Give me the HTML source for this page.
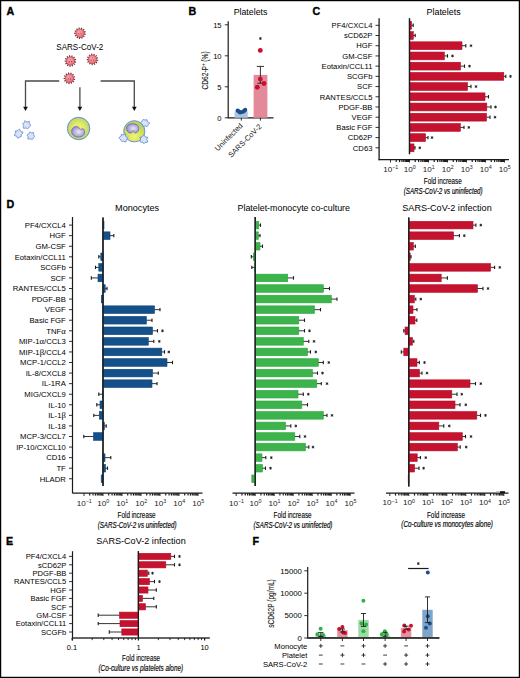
<!DOCTYPE html><html><head><meta charset="utf-8"><style>html,body{margin:0;padding:0;background:#fff;}svg{display:block;}text{font-family:"Liberation Sans", sans-serif;}</style></head><body>
<svg width="520" height="678" viewBox="0 0 520 678">
<rect x="0" y="0" width="520" height="678" fill="#fff"/>
<text x="6.60" y="14.90" font-size="10.7" text-anchor="start" font-weight="bold" fill="#000" stroke="#000" stroke-width="0.35">A</text>
<text x="188.60" y="14.80" font-size="10.7" text-anchor="start" font-weight="bold" fill="#000" stroke="#000" stroke-width="0.35">B</text>
<text x="312.60" y="14.80" font-size="10.7" text-anchor="start" font-weight="bold" fill="#000" stroke="#000" stroke-width="0.35">C</text>
<text x="6.60" y="207.80" font-size="10.7" text-anchor="start" font-weight="bold" fill="#000" stroke="#000" stroke-width="0.35">D</text>
<text x="6.00" y="545.20" font-size="10.7" text-anchor="start" font-weight="bold" fill="#000" stroke="#000" stroke-width="0.35">E</text>
<text x="252.60" y="544.60" font-size="10.7" text-anchor="start" font-weight="bold" fill="#000" stroke="#000" stroke-width="0.35">F</text>
<defs><radialGradient id="virg" cx="0.45" cy="0.4" r="0.6"><stop offset="0" stop-color="#f8b0b4"/><stop offset="1" stop-color="#e6636e"/></radialGradient></defs>
<g transform="translate(80.00,33.20)"><line x1="2.95" y1="0.60" x2="5.68" y2="1.15" stroke="#6e2d39" stroke-width="1.15"/><line x1="2.33" y1="1.90" x2="4.50" y2="3.66" stroke="#6e2d39" stroke-width="1.15"/><line x1="1.18" y1="2.77" x2="2.28" y2="5.33" stroke="#6e2d39" stroke-width="1.15"/><line x1="-0.24" y1="3.00" x2="-0.46" y2="5.78" stroke="#6e2d39" stroke-width="1.15"/><line x1="-1.61" y1="2.55" x2="-3.09" y2="4.91" stroke="#6e2d39" stroke-width="1.15"/><line x1="-2.60" y1="1.51" x2="-5.02" y2="2.91" stroke="#6e2d39" stroke-width="1.15"/><line x1="-3.01" y1="0.13" x2="-5.79" y2="0.24" stroke="#6e2d39" stroke-width="1.15"/><line x1="-2.72" y1="-1.29" x2="-5.24" y2="-2.48" stroke="#6e2d39" stroke-width="1.15"/><line x1="-1.81" y1="-2.40" x2="-3.49" y2="-4.63" stroke="#6e2d39" stroke-width="1.15"/><line x1="-0.49" y1="-2.97" x2="-0.94" y2="-5.72" stroke="#6e2d39" stroke-width="1.15"/><line x1="0.95" y1="-2.86" x2="1.83" y2="-5.50" stroke="#6e2d39" stroke-width="1.15"/><line x1="2.17" y1="-2.09" x2="4.18" y2="-4.02" stroke="#6e2d39" stroke-width="1.15"/><line x1="2.89" y1="-0.84" x2="5.57" y2="-1.62" stroke="#6e2d39" stroke-width="1.15"/><circle r="4.3" fill="url(#virg)" stroke="#a8404c" stroke-width="0.5"/><circle cx="-1.2" cy="0.6" r="0.55" fill="#8a3540"/><circle cx="1.1" cy="0.6" r="0.55" fill="#8a3540"/><circle cx="0" cy="-1.3" r="0.5" fill="#c05560"/></g>
<g transform="translate(70.40,61.00)"><line x1="2.95" y1="0.60" x2="5.68" y2="1.15" stroke="#6e2d39" stroke-width="1.15"/><line x1="2.33" y1="1.90" x2="4.50" y2="3.66" stroke="#6e2d39" stroke-width="1.15"/><line x1="1.18" y1="2.77" x2="2.28" y2="5.33" stroke="#6e2d39" stroke-width="1.15"/><line x1="-0.24" y1="3.00" x2="-0.46" y2="5.78" stroke="#6e2d39" stroke-width="1.15"/><line x1="-1.61" y1="2.55" x2="-3.09" y2="4.91" stroke="#6e2d39" stroke-width="1.15"/><line x1="-2.60" y1="1.51" x2="-5.02" y2="2.91" stroke="#6e2d39" stroke-width="1.15"/><line x1="-3.01" y1="0.13" x2="-5.79" y2="0.24" stroke="#6e2d39" stroke-width="1.15"/><line x1="-2.72" y1="-1.29" x2="-5.24" y2="-2.48" stroke="#6e2d39" stroke-width="1.15"/><line x1="-1.81" y1="-2.40" x2="-3.49" y2="-4.63" stroke="#6e2d39" stroke-width="1.15"/><line x1="-0.49" y1="-2.97" x2="-0.94" y2="-5.72" stroke="#6e2d39" stroke-width="1.15"/><line x1="0.95" y1="-2.86" x2="1.83" y2="-5.50" stroke="#6e2d39" stroke-width="1.15"/><line x1="2.17" y1="-2.09" x2="4.18" y2="-4.02" stroke="#6e2d39" stroke-width="1.15"/><line x1="2.89" y1="-0.84" x2="5.57" y2="-1.62" stroke="#6e2d39" stroke-width="1.15"/><circle r="4.3" fill="url(#virg)" stroke="#a8404c" stroke-width="0.5"/><circle cx="-1.2" cy="0.6" r="0.55" fill="#8a3540"/><circle cx="1.1" cy="0.6" r="0.55" fill="#8a3540"/><circle cx="0" cy="-1.3" r="0.5" fill="#c05560"/></g>
<g transform="translate(92.50,59.40)"><line x1="2.95" y1="0.60" x2="5.68" y2="1.15" stroke="#6e2d39" stroke-width="1.15"/><line x1="2.33" y1="1.90" x2="4.50" y2="3.66" stroke="#6e2d39" stroke-width="1.15"/><line x1="1.18" y1="2.77" x2="2.28" y2="5.33" stroke="#6e2d39" stroke-width="1.15"/><line x1="-0.24" y1="3.00" x2="-0.46" y2="5.78" stroke="#6e2d39" stroke-width="1.15"/><line x1="-1.61" y1="2.55" x2="-3.09" y2="4.91" stroke="#6e2d39" stroke-width="1.15"/><line x1="-2.60" y1="1.51" x2="-5.02" y2="2.91" stroke="#6e2d39" stroke-width="1.15"/><line x1="-3.01" y1="0.13" x2="-5.79" y2="0.24" stroke="#6e2d39" stroke-width="1.15"/><line x1="-2.72" y1="-1.29" x2="-5.24" y2="-2.48" stroke="#6e2d39" stroke-width="1.15"/><line x1="-1.81" y1="-2.40" x2="-3.49" y2="-4.63" stroke="#6e2d39" stroke-width="1.15"/><line x1="-0.49" y1="-2.97" x2="-0.94" y2="-5.72" stroke="#6e2d39" stroke-width="1.15"/><line x1="0.95" y1="-2.86" x2="1.83" y2="-5.50" stroke="#6e2d39" stroke-width="1.15"/><line x1="2.17" y1="-2.09" x2="4.18" y2="-4.02" stroke="#6e2d39" stroke-width="1.15"/><line x1="2.89" y1="-0.84" x2="5.57" y2="-1.62" stroke="#6e2d39" stroke-width="1.15"/><circle r="4.3" fill="url(#virg)" stroke="#a8404c" stroke-width="0.5"/><circle cx="-1.2" cy="0.6" r="0.55" fill="#8a3540"/><circle cx="1.1" cy="0.6" r="0.55" fill="#8a3540"/><circle cx="0" cy="-1.3" r="0.5" fill="#c05560"/></g>
<g transform="translate(69.40,78.30)"><line x1="2.95" y1="0.60" x2="5.68" y2="1.15" stroke="#6e2d39" stroke-width="1.15"/><line x1="2.33" y1="1.90" x2="4.50" y2="3.66" stroke="#6e2d39" stroke-width="1.15"/><line x1="1.18" y1="2.77" x2="2.28" y2="5.33" stroke="#6e2d39" stroke-width="1.15"/><line x1="-0.24" y1="3.00" x2="-0.46" y2="5.78" stroke="#6e2d39" stroke-width="1.15"/><line x1="-1.61" y1="2.55" x2="-3.09" y2="4.91" stroke="#6e2d39" stroke-width="1.15"/><line x1="-2.60" y1="1.51" x2="-5.02" y2="2.91" stroke="#6e2d39" stroke-width="1.15"/><line x1="-3.01" y1="0.13" x2="-5.79" y2="0.24" stroke="#6e2d39" stroke-width="1.15"/><line x1="-2.72" y1="-1.29" x2="-5.24" y2="-2.48" stroke="#6e2d39" stroke-width="1.15"/><line x1="-1.81" y1="-2.40" x2="-3.49" y2="-4.63" stroke="#6e2d39" stroke-width="1.15"/><line x1="-0.49" y1="-2.97" x2="-0.94" y2="-5.72" stroke="#6e2d39" stroke-width="1.15"/><line x1="0.95" y1="-2.86" x2="1.83" y2="-5.50" stroke="#6e2d39" stroke-width="1.15"/><line x1="2.17" y1="-2.09" x2="4.18" y2="-4.02" stroke="#6e2d39" stroke-width="1.15"/><line x1="2.89" y1="-0.84" x2="5.57" y2="-1.62" stroke="#6e2d39" stroke-width="1.15"/><circle r="4.3" fill="url(#virg)" stroke="#a8404c" stroke-width="0.5"/><circle cx="-1.2" cy="0.6" r="0.55" fill="#8a3540"/><circle cx="1.1" cy="0.6" r="0.55" fill="#8a3540"/><circle cx="0" cy="-1.3" r="0.5" fill="#c05560"/></g>
<text x="79.80" y="49.80" font-size="8.4" text-anchor="middle" textLength="47" lengthAdjust="spacingAndGlyphs" >SARS-CoV-2</text>
<polyline points="59.2,81.0 25.5,81.0 25.5,107.5" fill="none" stroke="#4a4a4a" stroke-width="1.3"/>
<polyline points="100.6,81.0 134.3,81.0 134.3,107.5" fill="none" stroke="#4a4a4a" stroke-width="1.3"/>
<line x1="79.90" y1="87.30" x2="79.90" y2="107.50" stroke="#4a4a4a" stroke-width="1.3"/>
<polygon points="23.10,106.8 27.90,106.8 25.50,110.9" fill="#111"/>
<polygon points="77.50,106.8 82.30,106.8 79.90,110.9" fill="#111"/>
<polygon points="131.90,106.8 136.70,106.8 134.30,110.9" fill="#111"/>
<path transform="translate(26.50,124.90) rotate(10) scale(1.0)" d="M3.93,0.00 C3.92,0.42 3.63,0.87 3.43,1.25 C3.23,1.63 2.96,1.91 2.73,2.29 C2.50,2.67 2.39,3.35 2.03,3.51 C1.67,3.67 1.00,3.30 0.57,3.25 C0.14,3.19 -0.10,3.10 -0.56,3.20 C-1.03,3.30 -1.86,4.00 -2.23,3.86 C-2.59,3.71 -2.67,2.78 -2.75,2.31 C-2.83,1.83 -2.54,1.37 -2.72,0.99 C-2.90,0.61 -3.71,0.37 -3.83,0.00 C-3.94,-0.37 -3.64,-0.90 -3.42,-1.24 C-3.19,-1.59 -2.67,-1.63 -2.48,-2.08 C-2.29,-2.53 -2.61,-3.84 -2.28,-3.95 C-1.95,-4.06 -0.96,-2.89 -0.49,-2.76 C-0.01,-2.63 0.11,-3.00 0.56,-3.20 C1.02,-3.39 1.97,-4.12 2.26,-3.92 C2.55,-3.71 2.11,-2.39 2.32,-1.95 C2.53,-1.51 3.25,-1.61 3.52,-1.28 C3.79,-0.96 3.95,-0.42 3.93,0.00Z" fill="#d9e3f6" stroke="#5a84d6" stroke-width="0.8"/>
<path transform="translate(18.50,133.80) rotate(-20) scale(1.0)" d="M4.76,0.00 C4.82,0.40 3.95,0.98 3.52,1.28 C3.09,1.59 2.45,1.49 2.19,1.84 C1.93,2.18 2.20,3.07 1.94,3.36 C1.68,3.66 1.06,3.56 0.63,3.58 C0.21,3.60 -0.14,3.43 -0.61,3.48 C-1.09,3.53 -1.94,4.12 -2.23,3.87 C-2.53,3.62 -2.22,2.45 -2.38,2.00 C-2.54,1.55 -2.86,1.50 -3.20,1.16 C-3.54,0.83 -4.41,0.39 -4.41,0.00 C-4.40,-0.39 -3.53,-0.84 -3.18,-1.16 C-2.82,-1.47 -2.44,-1.48 -2.27,-1.90 C-2.09,-2.32 -2.40,-3.46 -2.12,-3.66 C-1.83,-3.87 -1.01,-3.18 -0.55,-3.15 C-0.10,-3.11 0.12,-3.30 0.61,-3.47 C1.10,-3.64 2.02,-4.33 2.40,-4.15 C2.77,-3.98 2.75,-2.91 2.87,-2.41 C3.00,-1.91 2.83,-1.55 3.14,-1.14 C3.46,-0.74 4.69,-0.40 4.76,0.00Z" fill="#d9e3f6" stroke="#5a84d6" stroke-width="0.8"/>
<path transform="translate(30.80,135.90) rotate(70) scale(0.95)" d="M4.04,0.00 C3.99,0.40 3.41,0.80 3.14,1.14 C2.87,1.48 2.59,1.59 2.43,2.04 C2.27,2.48 2.51,3.59 2.20,3.81 C1.90,4.04 1.04,3.54 0.59,3.37 C0.14,3.21 -0.08,2.83 -0.50,2.82 C-0.91,2.81 -1.53,3.38 -1.91,3.30 C-2.29,3.22 -2.63,2.71 -2.79,2.34 C-2.95,1.96 -2.67,1.44 -2.87,1.05 C-3.08,0.66 -3.92,0.39 -4.03,0.00 C-4.15,-0.39 -3.82,-0.95 -3.57,-1.30 C-3.31,-1.65 -2.71,-1.65 -2.51,-2.10 C-2.30,-2.55 -2.64,-3.83 -2.32,-4.02 C-2.00,-4.20 -1.05,-3.33 -0.57,-3.23 C-0.08,-3.12 0.17,-3.35 0.60,-3.39 C1.02,-3.42 1.64,-3.62 1.98,-3.42 C2.31,-3.22 2.39,-2.57 2.63,-2.21 C2.88,-1.85 3.21,-1.62 3.45,-1.25 C3.68,-0.89 4.09,-0.40 4.04,0.00Z" fill="#d9e3f6" stroke="#5a84d6" stroke-width="0.8"/>
<defs><radialGradient id="cellg" cx="0.5" cy="0.5" r="0.55"><stop offset="0" stop-color="#f8f45c"/><stop offset="0.45" stop-color="#e2ea6c"/><stop offset="1" stop-color="#b4ce6e"/></radialGradient><radialGradient id="cellg2" cx="0.5" cy="0.75" r="0.6"><stop offset="0" stop-color="#f4f46a"/><stop offset="1" stop-color="#bdd35e"/></radialGradient><radialGradient id="nucg" cx="0.55" cy="0.5" r="0.6"><stop offset="0" stop-color="#efe9f5"/><stop offset="1" stop-color="#9484c4"/></radialGradient></defs>
<circle cx="78.6" cy="128.5" r="11.2" fill="url(#cellg)" stroke="#5b86d6" stroke-width="0.9"/>
<path d="M71.6,131.5 C71.6,128.2 74.2,126.4 76.6,126.6 C78.2,126.7 79.2,127.4 79.4,128.4 C79.8,129.6 81.2,129.8 82.2,128.6 C83.6,128.4 84.8,130.4 84.6,132.4 C84.4,135.4 81.6,137.2 78.2,137.1 C74.4,137.0 71.6,135.0 71.6,131.5 Z" fill="url(#nucg)" stroke="#5b6cc8" stroke-width="0.8"/>
<circle cx="134.3" cy="131.3" r="10.6" fill="url(#cellg2)" stroke="#5b86d6" stroke-width="0.9"/>
<path d="M126.6,128.2 C126.4,125.2 129.4,123.8 132.6,123.8 C136.2,123.8 138.9,125.4 138.8,128.2 C138.7,130.6 137.4,132.8 135.6,133.0 C134.6,133.1 133.8,132.2 133.2,130.6 C132.6,132.2 131.6,133.2 130.2,133.0 C128.2,132.8 126.7,130.6 126.6,128.2 Z" fill="url(#nucg)" stroke="#5b6cc8" stroke-width="0.8"/>
<path transform="translate(145.00,123.10) rotate(60) scale(1.0)" d="M4.04,0.00 C3.93,0.37 2.99,0.65 2.73,0.99 C2.46,1.34 2.57,1.65 2.45,2.05 C2.32,2.46 2.30,3.30 1.98,3.43 C1.65,3.55 0.92,2.87 0.50,2.82 C0.08,2.78 -0.08,2.94 -0.56,3.15 C-1.03,3.36 -1.99,4.23 -2.36,4.09 C-2.73,3.95 -2.59,2.79 -2.76,2.31 C-2.92,1.84 -3.14,1.61 -3.35,1.22 C-3.56,0.83 -4.06,0.39 -4.02,0.00 C-3.99,-0.39 -3.41,-0.81 -3.14,-1.14 C-2.86,-1.47 -2.55,-1.59 -2.36,-1.98 C-2.17,-2.36 -2.30,-3.29 -1.99,-3.44 C-1.68,-3.59 -0.92,-2.94 -0.50,-2.86 C-0.09,-2.78 0.05,-2.76 0.52,-2.97 C1.00,-3.17 1.99,-4.20 2.36,-4.09 C2.74,-3.99 2.61,-2.81 2.78,-2.33 C2.95,-1.86 3.18,-1.62 3.39,-1.23 C3.60,-0.84 4.15,-0.37 4.04,0.00Z" fill="#d9e3f6" stroke="#5a84d6" stroke-width="0.8"/>
<path transform="translate(123.50,137.90) rotate(0) scale(1.0)" d="M4.42,0.00 C4.51,0.37 3.61,0.83 3.33,1.21 C3.05,1.60 2.91,1.83 2.75,2.31 C2.59,2.79 2.73,3.91 2.37,4.11 C2.01,4.30 1.12,3.56 0.61,3.49 C0.11,3.41 -0.22,3.69 -0.65,3.67 C-1.07,3.64 -1.61,3.58 -1.91,3.32 C-2.22,3.05 -2.23,2.44 -2.50,2.10 C-2.77,1.76 -3.19,1.63 -3.52,1.28 C-3.84,0.93 -4.46,0.42 -4.45,0.00 C-4.44,-0.42 -3.85,-0.95 -3.48,-1.27 C-3.11,-1.58 -2.46,-1.47 -2.23,-1.87 C-2.01,-2.28 -2.42,-3.51 -2.13,-3.70 C-1.85,-3.89 -0.98,-3.07 -0.53,-3.00 C-0.08,-2.93 0.13,-3.16 0.58,-3.29 C1.03,-3.42 1.92,-4.04 2.19,-3.79 C2.45,-3.54 2.05,-2.27 2.15,-1.81 C2.26,-1.35 2.46,-1.33 2.83,-1.03 C3.21,-0.73 4.34,-0.37 4.42,0.00Z" fill="#d9e3f6" stroke="#5a84d6" stroke-width="0.8"/>
<path transform="translate(143.80,139.60) rotate(30) scale(1.0)" d="M4.59,0.00 C4.64,0.40 3.75,0.89 3.40,1.24 C3.06,1.59 2.75,1.73 2.52,2.11 C2.29,2.49 2.37,3.41 2.03,3.52 C1.69,3.63 0.92,2.78 0.49,2.76 C0.05,2.74 -0.16,3.25 -0.60,3.41 C-1.04,3.57 -1.78,3.89 -2.14,3.70 C-2.49,3.51 -2.59,2.72 -2.73,2.29 C-2.87,1.85 -2.67,1.47 -2.98,1.09 C-3.29,0.70 -4.59,0.36 -4.57,0.00 C-4.55,-0.36 -3.19,-0.67 -2.89,-1.05 C-2.59,-1.44 -2.86,-1.84 -2.76,-2.32 C-2.66,-2.79 -2.63,-3.78 -2.26,-3.92 C-1.90,-4.06 -1.03,-3.27 -0.56,-3.17 C-0.08,-3.06 0.11,-3.17 0.58,-3.29 C1.05,-3.41 1.96,-4.11 2.24,-3.88 C2.53,-3.65 2.14,-2.38 2.29,-1.92 C2.44,-1.47 2.77,-1.47 3.15,-1.15 C3.53,-0.83 4.55,-0.40 4.59,0.00Z" fill="#d9e3f6" stroke="#5a84d6" stroke-width="0.8"/>
<text x="250.50" y="14.80" font-size="8.8" text-anchor="middle" >Platelets</text>
<line x1="228.20" y1="21.20" x2="228.20" y2="118.30" stroke="#1a1a1a" stroke-width="1.2"/>
<line x1="228.20" y1="117.80" x2="273.50" y2="117.80" stroke="#1a1a1a" stroke-width="1.2"/>
<line x1="224.80" y1="117.80" x2="228.20" y2="117.80" stroke="#1a1a1a" stroke-width="0.9"/>
<text x="221.60" y="120.55" font-size="7.6" text-anchor="end" >0</text>
<line x1="224.80" y1="86.80" x2="228.20" y2="86.80" stroke="#1a1a1a" stroke-width="0.9"/>
<text x="221.60" y="89.55" font-size="7.6" text-anchor="end" >5</text>
<line x1="224.80" y1="55.80" x2="228.20" y2="55.80" stroke="#1a1a1a" stroke-width="0.9"/>
<text x="221.60" y="58.55" font-size="7.6" text-anchor="end" >10</text>
<line x1="224.80" y1="24.80" x2="228.20" y2="24.80" stroke="#1a1a1a" stroke-width="0.9"/>
<text x="221.60" y="27.55" font-size="7.6" text-anchor="end" >15</text>
<text transform="translate(207.5,70.4) rotate(-90)" font-size="8.2" text-anchor="middle" fill="#1c1c1c" stroke="#1c1c1c" stroke-width="0.12" textLength="38" lengthAdjust="spacingAndGlyphs">CD62-P<tspan font-size="5.5" dy="-2.8">+</tspan><tspan dy="2.8"> (%)</tspan></text>
<rect x="234.60" y="111.35" width="13.10" height="6.45" fill="#a9c2dd"/>
<rect x="253.60" y="74.90" width="13.80" height="42.90" fill="#e38a9a"/>
<line x1="260.40" y1="75.00" x2="260.40" y2="66.40" stroke="#1a1a1a" stroke-width="0.9"/>
<line x1="256.80" y1="66.40" x2="264.00" y2="66.40" stroke="#1a1a1a" stroke-width="0.9"/>
<line x1="260.40" y1="75.00" x2="260.40" y2="83.20" stroke="#1a1a1a" stroke-width="0.9"/>
<line x1="257.40" y1="83.20" x2="263.40" y2="83.20" stroke="#1a1a1a" stroke-width="0.9"/>
<path d="M260.40,37.10V39.90M259.18,37.80L261.62,39.20M259.18,39.20L261.62,37.80" stroke="#1a1a1a" stroke-width="0.85"/>
<circle cx="260.3" cy="50.4" r="2.45" fill="#c8102e"/>
<circle cx="260.3" cy="79.1" r="2.45" fill="#c8102e"/>
<circle cx="264.0" cy="83.5" r="2.45" fill="#c8102e"/>
<circle cx="257.3" cy="87.3" r="2.45" fill="#c8102e"/>
<circle cx="237.7" cy="110.6" r="2.1" fill="#1b4f8c"/>
<circle cx="240.2" cy="112.4" r="2.1" fill="#1b4f8c"/>
<circle cx="242.8" cy="111.8" r="2.1" fill="#1b4f8c"/>
<circle cx="245.2" cy="109.9" r="2.1" fill="#1b4f8c"/>
<circle cx="239.0" cy="111.6" r="2.1" fill="#1b4f8c"/>
<circle cx="244.0" cy="111.0" r="2.1" fill="#1b4f8c"/>
<line x1="241.30" y1="117.80" x2="241.30" y2="120.60" stroke="#1a1a1a" stroke-width="0.9"/>
<line x1="260.40" y1="117.80" x2="260.40" y2="120.60" stroke="#1a1a1a" stroke-width="0.9"/>
<text transform="translate(243.2,126.2) rotate(-45)" font-size="7.5" text-anchor="end" fill="#222">Uninfected</text>
<text transform="translate(262.2,127.0) rotate(-45)" font-size="7.5" text-anchor="end" fill="#222">SARS-CoV-2</text>
<text x="443.60" y="14.80" font-size="8.9" text-anchor="middle" >Platelets</text>
<line x1="379.10" y1="18.20" x2="379.10" y2="160.20" stroke="#1a1a1a" stroke-width="1.3"/>
<line x1="375.50" y1="25.30" x2="379.10" y2="25.30" stroke="#1a1a1a" stroke-width="0.9"/>
<text x="372.40" y="28.05" font-size="7.65" text-anchor="end" >PF4/CXCL4</text>
<line x1="375.50" y1="35.51" x2="379.10" y2="35.51" stroke="#1a1a1a" stroke-width="0.9"/>
<text x="372.40" y="38.26" font-size="7.65" text-anchor="end" >sCD62P</text>
<line x1="375.50" y1="45.72" x2="379.10" y2="45.72" stroke="#1a1a1a" stroke-width="0.9"/>
<text x="372.40" y="48.47" font-size="7.65" text-anchor="end" >HGF</text>
<line x1="375.50" y1="55.93" x2="379.10" y2="55.93" stroke="#1a1a1a" stroke-width="0.9"/>
<text x="372.40" y="58.68" font-size="7.65" text-anchor="end" >GM-CSF</text>
<line x1="375.50" y1="66.14" x2="379.10" y2="66.14" stroke="#1a1a1a" stroke-width="0.9"/>
<text x="372.40" y="68.89" font-size="7.65" text-anchor="end" >Eotaxin/CCL11</text>
<line x1="375.50" y1="76.35" x2="379.10" y2="76.35" stroke="#1a1a1a" stroke-width="0.9"/>
<text x="372.40" y="79.10" font-size="7.65" text-anchor="end" >SCGFb</text>
<line x1="375.50" y1="86.56" x2="379.10" y2="86.56" stroke="#1a1a1a" stroke-width="0.9"/>
<text x="372.40" y="89.31" font-size="7.65" text-anchor="end" >SCF</text>
<line x1="375.50" y1="96.77" x2="379.10" y2="96.77" stroke="#1a1a1a" stroke-width="0.9"/>
<text x="372.40" y="99.52" font-size="7.65" text-anchor="end" >RANTES/CCL5</text>
<line x1="375.50" y1="106.98" x2="379.10" y2="106.98" stroke="#1a1a1a" stroke-width="0.9"/>
<text x="372.40" y="109.73" font-size="7.65" text-anchor="end" >PDGF-BB</text>
<line x1="375.50" y1="117.19" x2="379.10" y2="117.19" stroke="#1a1a1a" stroke-width="0.9"/>
<text x="372.40" y="119.94" font-size="7.65" text-anchor="end" >VEGF</text>
<line x1="375.50" y1="127.40" x2="379.10" y2="127.40" stroke="#1a1a1a" stroke-width="0.9"/>
<text x="372.40" y="130.15" font-size="7.65" text-anchor="end" >Basic FGF</text>
<line x1="375.50" y1="137.61" x2="379.10" y2="137.61" stroke="#1a1a1a" stroke-width="0.9"/>
<text x="372.40" y="140.36" font-size="7.65" text-anchor="end" >CD62P</text>
<line x1="375.50" y1="147.82" x2="379.10" y2="147.82" stroke="#1a1a1a" stroke-width="0.9"/>
<text x="372.40" y="150.57" font-size="7.65" text-anchor="end" >CD63</text>
<line x1="409.50" y1="18.40" x2="409.50" y2="154.20" stroke="#1a1a1a" stroke-width="1.2"/>
<rect x="409.50" y="21.40" width="2.00" height="7.80" fill="#c4122f" stroke="#b80a27" stroke-width="0.6"/>
<line x1="411.50" y1="25.30" x2="413.20" y2="25.30" stroke="#2a2a2a" stroke-width="0.95"/>
<line x1="413.20" y1="23.60" x2="413.20" y2="27.00" stroke="#1a1a1a" stroke-width="1.1"/>
<rect x="409.50" y="31.61" width="3.80" height="7.80" fill="#c4122f" stroke="#b80a27" stroke-width="0.6"/>
<line x1="413.30" y1="35.51" x2="415.20" y2="35.51" stroke="#2a2a2a" stroke-width="0.95"/>
<line x1="415.20" y1="33.81" x2="415.20" y2="37.21" stroke="#1a1a1a" stroke-width="1.1"/>
<rect x="409.50" y="41.82" width="52.50" height="7.80" fill="#c4122f" stroke="#b80a27" stroke-width="0.6"/>
<line x1="462.00" y1="45.72" x2="465.80" y2="45.72" stroke="#2a2a2a" stroke-width="0.95"/>
<line x1="465.80" y1="44.02" x2="465.80" y2="47.42" stroke="#1a1a1a" stroke-width="1.1"/>
<path d="M471.00,44.32V47.12M469.78,45.02L472.22,46.42M469.78,46.42L472.22,45.02" stroke="#1a1a1a" stroke-width="0.85"/>
<rect x="409.50" y="52.03" width="34.80" height="7.80" fill="#c4122f" stroke="#b80a27" stroke-width="0.6"/>
<line x1="444.30" y1="55.93" x2="447.50" y2="55.93" stroke="#2a2a2a" stroke-width="0.95"/>
<line x1="447.50" y1="54.23" x2="447.50" y2="57.63" stroke="#1a1a1a" stroke-width="1.1"/>
<path d="M452.50,54.53V57.33M451.28,55.23L453.72,56.63M451.28,56.63L453.72,55.23" stroke="#1a1a1a" stroke-width="0.85"/>
<rect x="409.50" y="62.24" width="51.00" height="7.80" fill="#c4122f" stroke="#b80a27" stroke-width="0.6"/>
<line x1="460.50" y1="66.14" x2="464.50" y2="66.14" stroke="#2a2a2a" stroke-width="0.95"/>
<line x1="464.50" y1="64.44" x2="464.50" y2="67.84" stroke="#1a1a1a" stroke-width="1.1"/>
<path d="M469.50,64.74V67.54M468.28,65.44L470.72,66.84M468.28,66.84L470.72,65.44" stroke="#1a1a1a" stroke-width="0.85"/>
<rect x="409.50" y="72.45" width="94.30" height="7.80" fill="#c4122f" stroke="#b80a27" stroke-width="0.6"/>
<line x1="503.80" y1="76.35" x2="505.80" y2="76.35" stroke="#2a2a2a" stroke-width="0.95"/>
<line x1="505.80" y1="74.65" x2="505.80" y2="78.05" stroke="#1a1a1a" stroke-width="1.1"/>
<path d="M510.50,74.95V77.75M509.28,75.65L511.72,77.05M509.28,77.05L511.72,75.65" stroke="#1a1a1a" stroke-width="0.85"/>
<rect x="409.50" y="82.66" width="58.00" height="7.80" fill="#c4122f" stroke="#b80a27" stroke-width="0.6"/>
<line x1="467.50" y1="86.56" x2="471.00" y2="86.56" stroke="#2a2a2a" stroke-width="0.95"/>
<line x1="471.00" y1="84.86" x2="471.00" y2="88.26" stroke="#1a1a1a" stroke-width="1.1"/>
<path d="M476.00,85.16V87.96M474.78,85.86L477.22,87.26M474.78,87.26L477.22,85.86" stroke="#1a1a1a" stroke-width="0.85"/>
<rect x="409.50" y="92.87" width="75.50" height="7.80" fill="#c4122f" stroke="#b80a27" stroke-width="0.6"/>
<line x1="485.00" y1="96.77" x2="488.50" y2="96.77" stroke="#2a2a2a" stroke-width="0.95"/>
<line x1="488.50" y1="95.07" x2="488.50" y2="98.47" stroke="#1a1a1a" stroke-width="1.1"/>
<rect x="409.50" y="103.08" width="77.30" height="7.80" fill="#c4122f" stroke="#b80a27" stroke-width="0.6"/>
<line x1="486.80" y1="106.98" x2="491.00" y2="106.98" stroke="#2a2a2a" stroke-width="0.95"/>
<line x1="491.00" y1="105.28" x2="491.00" y2="108.68" stroke="#1a1a1a" stroke-width="1.1"/>
<path d="M495.50,105.58V108.38M494.28,106.28L496.72,107.68M494.28,107.68L496.72,106.28" stroke="#1a1a1a" stroke-width="0.85"/>
<rect x="409.50" y="113.29" width="77.00" height="7.80" fill="#c4122f" stroke="#b80a27" stroke-width="0.6"/>
<line x1="486.50" y1="117.19" x2="490.00" y2="117.19" stroke="#2a2a2a" stroke-width="0.95"/>
<line x1="490.00" y1="115.49" x2="490.00" y2="118.89" stroke="#1a1a1a" stroke-width="1.1"/>
<path d="M495.00,115.79V118.59M493.78,116.49L496.22,117.89M493.78,117.89L496.22,116.49" stroke="#1a1a1a" stroke-width="0.85"/>
<rect x="409.50" y="123.50" width="50.80" height="7.80" fill="#c4122f" stroke="#b80a27" stroke-width="0.6"/>
<line x1="460.30" y1="127.40" x2="464.00" y2="127.40" stroke="#2a2a2a" stroke-width="0.95"/>
<line x1="464.00" y1="125.70" x2="464.00" y2="129.10" stroke="#1a1a1a" stroke-width="1.1"/>
<path d="M468.80,126.00V128.80M467.58,126.70L470.02,128.10M467.58,128.10L470.02,126.70" stroke="#1a1a1a" stroke-width="0.85"/>
<rect x="409.50" y="133.71" width="16.00" height="7.80" fill="#c4122f" stroke="#b80a27" stroke-width="0.6"/>
<line x1="425.50" y1="137.61" x2="428.00" y2="137.61" stroke="#2a2a2a" stroke-width="0.95"/>
<line x1="428.00" y1="135.91" x2="428.00" y2="139.31" stroke="#1a1a1a" stroke-width="1.1"/>
<path d="M432.00,136.21V139.01M430.78,136.91L433.22,138.31M430.78,138.31L433.22,136.91" stroke="#1a1a1a" stroke-width="0.85"/>
<rect x="409.50" y="143.92" width="4.50" height="7.80" fill="#c4122f" stroke="#b80a27" stroke-width="0.6"/>
<line x1="414.00" y1="147.82" x2="415.00" y2="147.82" stroke="#2a2a2a" stroke-width="0.95"/>
<line x1="415.00" y1="146.12" x2="415.00" y2="149.52" stroke="#1a1a1a" stroke-width="1.1"/>
<path d="M419.80,146.42V149.22M418.58,147.12L421.02,148.52M418.58,148.52L421.02,147.12" stroke="#1a1a1a" stroke-width="0.85"/>
<line x1="409.50" y1="18.40" x2="409.50" y2="154.20" stroke="#1a1a1a" stroke-width="1.3"/>
<line x1="378.60" y1="159.70" x2="509.00" y2="159.70" stroke="#1a1a1a" stroke-width="1.2"/>
<line x1="390.50" y1="159.70" x2="390.50" y2="162.50" stroke="#1a1a1a" stroke-width="0.9"/>
<text x="390.80" y="171.80" font-size="8.1" text-anchor="middle" fill="#222">10<tspan font-size="5.35" dy="-2.6">−1</tspan></text>
<line x1="396.22" y1="159.70" x2="396.22" y2="162.10" stroke="#1a1a1a" stroke-width="1.2"/>
<line x1="399.57" y1="159.70" x2="399.57" y2="162.10" stroke="#1a1a1a" stroke-width="1.2"/>
<line x1="401.94" y1="159.70" x2="401.94" y2="162.10" stroke="#1a1a1a" stroke-width="1.2"/>
<line x1="403.78" y1="159.70" x2="403.78" y2="162.10" stroke="#1a1a1a" stroke-width="1.2"/>
<line x1="405.28" y1="159.70" x2="405.28" y2="162.10" stroke="#1a1a1a" stroke-width="1.2"/>
<line x1="406.56" y1="159.70" x2="406.56" y2="162.10" stroke="#1a1a1a" stroke-width="1.2"/>
<line x1="407.66" y1="159.70" x2="407.66" y2="162.10" stroke="#1a1a1a" stroke-width="1.2"/>
<line x1="408.63" y1="159.70" x2="408.63" y2="162.10" stroke="#1a1a1a" stroke-width="1.2"/>
<line x1="409.50" y1="159.70" x2="409.50" y2="162.50" stroke="#1a1a1a" stroke-width="0.9"/>
<text x="409.80" y="171.80" font-size="8.1" text-anchor="middle" fill="#222">10<tspan font-size="5.35" dy="-2.6">0</tspan></text>
<line x1="415.22" y1="159.70" x2="415.22" y2="162.10" stroke="#1a1a1a" stroke-width="1.2"/>
<line x1="418.57" y1="159.70" x2="418.57" y2="162.10" stroke="#1a1a1a" stroke-width="1.2"/>
<line x1="420.94" y1="159.70" x2="420.94" y2="162.10" stroke="#1a1a1a" stroke-width="1.2"/>
<line x1="422.78" y1="159.70" x2="422.78" y2="162.10" stroke="#1a1a1a" stroke-width="1.2"/>
<line x1="424.28" y1="159.70" x2="424.28" y2="162.10" stroke="#1a1a1a" stroke-width="1.2"/>
<line x1="425.56" y1="159.70" x2="425.56" y2="162.10" stroke="#1a1a1a" stroke-width="1.2"/>
<line x1="426.66" y1="159.70" x2="426.66" y2="162.10" stroke="#1a1a1a" stroke-width="1.2"/>
<line x1="427.63" y1="159.70" x2="427.63" y2="162.10" stroke="#1a1a1a" stroke-width="1.2"/>
<line x1="428.50" y1="159.70" x2="428.50" y2="162.50" stroke="#1a1a1a" stroke-width="0.9"/>
<text x="428.80" y="171.80" font-size="8.1" text-anchor="middle" fill="#222">10<tspan font-size="5.35" dy="-2.6">1</tspan></text>
<line x1="434.22" y1="159.70" x2="434.22" y2="162.10" stroke="#1a1a1a" stroke-width="1.2"/>
<line x1="437.57" y1="159.70" x2="437.57" y2="162.10" stroke="#1a1a1a" stroke-width="1.2"/>
<line x1="439.94" y1="159.70" x2="439.94" y2="162.10" stroke="#1a1a1a" stroke-width="1.2"/>
<line x1="441.78" y1="159.70" x2="441.78" y2="162.10" stroke="#1a1a1a" stroke-width="1.2"/>
<line x1="443.28" y1="159.70" x2="443.28" y2="162.10" stroke="#1a1a1a" stroke-width="1.2"/>
<line x1="444.56" y1="159.70" x2="444.56" y2="162.10" stroke="#1a1a1a" stroke-width="1.2"/>
<line x1="445.66" y1="159.70" x2="445.66" y2="162.10" stroke="#1a1a1a" stroke-width="1.2"/>
<line x1="446.63" y1="159.70" x2="446.63" y2="162.10" stroke="#1a1a1a" stroke-width="1.2"/>
<line x1="447.50" y1="159.70" x2="447.50" y2="162.50" stroke="#1a1a1a" stroke-width="0.9"/>
<text x="447.80" y="171.80" font-size="8.1" text-anchor="middle" fill="#222">10<tspan font-size="5.35" dy="-2.6">2</tspan></text>
<line x1="453.22" y1="159.70" x2="453.22" y2="162.10" stroke="#1a1a1a" stroke-width="1.2"/>
<line x1="456.57" y1="159.70" x2="456.57" y2="162.10" stroke="#1a1a1a" stroke-width="1.2"/>
<line x1="458.94" y1="159.70" x2="458.94" y2="162.10" stroke="#1a1a1a" stroke-width="1.2"/>
<line x1="460.78" y1="159.70" x2="460.78" y2="162.10" stroke="#1a1a1a" stroke-width="1.2"/>
<line x1="462.28" y1="159.70" x2="462.28" y2="162.10" stroke="#1a1a1a" stroke-width="1.2"/>
<line x1="463.56" y1="159.70" x2="463.56" y2="162.10" stroke="#1a1a1a" stroke-width="1.2"/>
<line x1="464.66" y1="159.70" x2="464.66" y2="162.10" stroke="#1a1a1a" stroke-width="1.2"/>
<line x1="465.63" y1="159.70" x2="465.63" y2="162.10" stroke="#1a1a1a" stroke-width="1.2"/>
<line x1="466.50" y1="159.70" x2="466.50" y2="162.50" stroke="#1a1a1a" stroke-width="0.9"/>
<text x="466.80" y="171.80" font-size="8.1" text-anchor="middle" fill="#222">10<tspan font-size="5.35" dy="-2.6">3</tspan></text>
<line x1="472.22" y1="159.70" x2="472.22" y2="162.10" stroke="#1a1a1a" stroke-width="1.2"/>
<line x1="475.57" y1="159.70" x2="475.57" y2="162.10" stroke="#1a1a1a" stroke-width="1.2"/>
<line x1="477.94" y1="159.70" x2="477.94" y2="162.10" stroke="#1a1a1a" stroke-width="1.2"/>
<line x1="479.78" y1="159.70" x2="479.78" y2="162.10" stroke="#1a1a1a" stroke-width="1.2"/>
<line x1="481.28" y1="159.70" x2="481.28" y2="162.10" stroke="#1a1a1a" stroke-width="1.2"/>
<line x1="482.56" y1="159.70" x2="482.56" y2="162.10" stroke="#1a1a1a" stroke-width="1.2"/>
<line x1="483.66" y1="159.70" x2="483.66" y2="162.10" stroke="#1a1a1a" stroke-width="1.2"/>
<line x1="484.63" y1="159.70" x2="484.63" y2="162.10" stroke="#1a1a1a" stroke-width="1.2"/>
<line x1="485.50" y1="159.70" x2="485.50" y2="162.50" stroke="#1a1a1a" stroke-width="0.9"/>
<text x="485.80" y="171.80" font-size="8.1" text-anchor="middle" fill="#222">10<tspan font-size="5.35" dy="-2.6">4</tspan></text>
<line x1="491.22" y1="159.70" x2="491.22" y2="162.10" stroke="#1a1a1a" stroke-width="1.2"/>
<line x1="494.57" y1="159.70" x2="494.57" y2="162.10" stroke="#1a1a1a" stroke-width="1.2"/>
<line x1="496.94" y1="159.70" x2="496.94" y2="162.10" stroke="#1a1a1a" stroke-width="1.2"/>
<line x1="498.78" y1="159.70" x2="498.78" y2="162.10" stroke="#1a1a1a" stroke-width="1.2"/>
<line x1="500.28" y1="159.70" x2="500.28" y2="162.10" stroke="#1a1a1a" stroke-width="1.2"/>
<line x1="501.56" y1="159.70" x2="501.56" y2="162.10" stroke="#1a1a1a" stroke-width="1.2"/>
<line x1="502.66" y1="159.70" x2="502.66" y2="162.10" stroke="#1a1a1a" stroke-width="1.2"/>
<line x1="503.63" y1="159.70" x2="503.63" y2="162.10" stroke="#1a1a1a" stroke-width="1.2"/>
<line x1="504.50" y1="159.70" x2="504.50" y2="162.50" stroke="#1a1a1a" stroke-width="0.9"/>
<text x="504.80" y="171.80" font-size="8.1" text-anchor="middle" fill="#222">10<tspan font-size="5.35" dy="-2.6">5</tspan></text>
<text x="442.80" y="184.20" font-size="8.6" text-anchor="middle" textLength="38" lengthAdjust="spacingAndGlyphs" stroke="#1c1c1c" stroke-width="0.15">Fold increase</text>
<text x="443.20" y="194.30" font-size="8.2" text-anchor="middle" font-style="italic" textLength="78.9" lengthAdjust="spacingAndGlyphs" stroke="#1c1c1c" stroke-width="0.2">(SARS-CoV-2 vs uninfected)</text>
<text x="137.10" y="211.20" font-size="9.1" text-anchor="middle" >Monocytes</text>
<text x="237.50" y="210.80" font-size="8.9" text-anchor="start" >Platelet-monocyte co-culture</text>
<text x="447.00" y="210.90" font-size="9.1" text-anchor="middle" >SARS-CoV-2 infection</text>
<line x1="72.50" y1="217.00" x2="72.50" y2="493.20" stroke="#1a1a1a" stroke-width="1.2"/>
<line x1="69.00" y1="225.10" x2="72.50" y2="225.10" stroke="#1a1a1a" stroke-width="0.9"/>
<text x="65.80" y="227.85" font-size="7.7" text-anchor="end" >PF4/CXCL4</text>
<line x1="69.00" y1="235.67" x2="72.50" y2="235.67" stroke="#1a1a1a" stroke-width="0.9"/>
<text x="65.80" y="238.42" font-size="7.7" text-anchor="end" >HGF</text>
<line x1="69.00" y1="246.24" x2="72.50" y2="246.24" stroke="#1a1a1a" stroke-width="0.9"/>
<text x="65.80" y="248.99" font-size="7.7" text-anchor="end" >GM-CSF</text>
<line x1="69.00" y1="256.81" x2="72.50" y2="256.81" stroke="#1a1a1a" stroke-width="0.9"/>
<text x="65.80" y="259.56" font-size="7.7" text-anchor="end" >Eotaxin/CCL11</text>
<line x1="69.00" y1="267.38" x2="72.50" y2="267.38" stroke="#1a1a1a" stroke-width="0.9"/>
<text x="65.80" y="270.13" font-size="7.7" text-anchor="end" >SCGFb</text>
<line x1="69.00" y1="277.95" x2="72.50" y2="277.95" stroke="#1a1a1a" stroke-width="0.9"/>
<text x="65.80" y="280.70" font-size="7.7" text-anchor="end" >SCF</text>
<line x1="69.00" y1="288.52" x2="72.50" y2="288.52" stroke="#1a1a1a" stroke-width="0.9"/>
<text x="65.80" y="291.27" font-size="7.7" text-anchor="end" >RANTES/CCL5</text>
<line x1="69.00" y1="299.09" x2="72.50" y2="299.09" stroke="#1a1a1a" stroke-width="0.9"/>
<text x="65.80" y="301.84" font-size="7.7" text-anchor="end" >PDGF-BB</text>
<line x1="69.00" y1="309.66" x2="72.50" y2="309.66" stroke="#1a1a1a" stroke-width="0.9"/>
<text x="65.80" y="312.41" font-size="7.7" text-anchor="end" >VEGF</text>
<line x1="69.00" y1="320.23" x2="72.50" y2="320.23" stroke="#1a1a1a" stroke-width="0.9"/>
<text x="65.80" y="322.98" font-size="7.7" text-anchor="end" >Basic FGF</text>
<line x1="69.00" y1="330.80" x2="72.50" y2="330.80" stroke="#1a1a1a" stroke-width="0.9"/>
<text x="65.80" y="333.55" font-size="7.7" text-anchor="end" >TNF<tspan font-family="Liberation Serif" font-size="8.6">α</tspan></text>
<line x1="69.00" y1="341.37" x2="72.50" y2="341.37" stroke="#1a1a1a" stroke-width="0.9"/>
<text x="65.80" y="344.12" font-size="7.7" text-anchor="end" >MIP-1<tspan font-family="Liberation Serif" font-size="8.6">α</tspan>/CCL3</text>
<line x1="69.00" y1="351.94" x2="72.50" y2="351.94" stroke="#1a1a1a" stroke-width="0.9"/>
<text x="65.80" y="354.69" font-size="7.7" text-anchor="end" >MIP-1<tspan font-family="Liberation Serif" font-size="8.6">β</tspan>/CCL4</text>
<line x1="69.00" y1="362.51" x2="72.50" y2="362.51" stroke="#1a1a1a" stroke-width="0.9"/>
<text x="65.80" y="365.26" font-size="7.7" text-anchor="end" >MCP-1/CCL2</text>
<line x1="69.00" y1="373.08" x2="72.50" y2="373.08" stroke="#1a1a1a" stroke-width="0.9"/>
<text x="65.80" y="375.83" font-size="7.7" text-anchor="end" >IL-8/CXCL8</text>
<line x1="69.00" y1="383.65" x2="72.50" y2="383.65" stroke="#1a1a1a" stroke-width="0.9"/>
<text x="65.80" y="386.40" font-size="7.7" text-anchor="end" >IL-1RA</text>
<line x1="69.00" y1="394.22" x2="72.50" y2="394.22" stroke="#1a1a1a" stroke-width="0.9"/>
<text x="65.80" y="396.97" font-size="7.7" text-anchor="end" >MIG/CXCL9</text>
<line x1="69.00" y1="404.79" x2="72.50" y2="404.79" stroke="#1a1a1a" stroke-width="0.9"/>
<text x="65.80" y="407.54" font-size="7.7" text-anchor="end" >IL-10</text>
<line x1="69.00" y1="415.36" x2="72.50" y2="415.36" stroke="#1a1a1a" stroke-width="0.9"/>
<text x="65.80" y="418.11" font-size="7.7" text-anchor="end" >IL-1<tspan font-family="Liberation Serif" font-size="8.6">β</tspan></text>
<line x1="69.00" y1="425.93" x2="72.50" y2="425.93" stroke="#1a1a1a" stroke-width="0.9"/>
<text x="65.80" y="428.68" font-size="7.7" text-anchor="end" >IL-18</text>
<line x1="69.00" y1="436.50" x2="72.50" y2="436.50" stroke="#1a1a1a" stroke-width="0.9"/>
<text x="65.80" y="439.25" font-size="7.7" text-anchor="end" >MCP-3/CCL7</text>
<line x1="69.00" y1="447.07" x2="72.50" y2="447.07" stroke="#1a1a1a" stroke-width="0.9"/>
<text x="65.80" y="449.82" font-size="7.7" text-anchor="end" >IP-10/CXCL10</text>
<line x1="69.00" y1="457.64" x2="72.50" y2="457.64" stroke="#1a1a1a" stroke-width="0.9"/>
<text x="65.80" y="460.39" font-size="7.7" text-anchor="end" >CD16</text>
<line x1="69.00" y1="468.21" x2="72.50" y2="468.21" stroke="#1a1a1a" stroke-width="0.9"/>
<text x="65.80" y="470.96" font-size="7.7" text-anchor="end" >TF</text>
<line x1="69.00" y1="478.78" x2="72.50" y2="478.78" stroke="#1a1a1a" stroke-width="0.9"/>
<text x="65.80" y="481.53" font-size="7.7" text-anchor="end" >HLADR</text>
<line x1="103.00" y1="217.50" x2="103.00" y2="486.00" stroke="#1a1a1a" stroke-width="1.2"/>
<rect x="103.00" y="221.30" width="1.00" height="7.60" fill="#14508a" stroke="#0b4079" stroke-width="0.6"/>
<rect x="103.00" y="231.87" width="7.00" height="7.60" fill="#14508a" stroke="#0b4079" stroke-width="0.6"/>
<line x1="110.00" y1="235.67" x2="113.80" y2="235.67" stroke="#2a2a2a" stroke-width="0.95"/>
<line x1="113.80" y1="233.97" x2="113.80" y2="237.37" stroke="#1a1a1a" stroke-width="1.1"/>
<rect x="100.80" y="253.01" width="2.20" height="7.60" fill="#14508a" stroke="#0b4079" stroke-width="0.6"/>
<line x1="100.80" y1="256.81" x2="98.80" y2="256.81" stroke="#2a2a2a" stroke-width="0.95"/>
<line x1="98.80" y1="255.11" x2="98.80" y2="258.51" stroke="#1a1a1a" stroke-width="1.1"/>
<rect x="98.80" y="263.58" width="4.20" height="7.60" fill="#14508a" stroke="#0b4079" stroke-width="0.6"/>
<line x1="98.80" y1="267.38" x2="95.50" y2="267.38" stroke="#2a2a2a" stroke-width="0.95"/>
<line x1="95.50" y1="265.68" x2="95.50" y2="269.08" stroke="#1a1a1a" stroke-width="1.1"/>
<rect x="98.00" y="274.15" width="5.00" height="7.60" fill="#14508a" stroke="#0b4079" stroke-width="0.6"/>
<line x1="98.00" y1="277.95" x2="91.30" y2="277.95" stroke="#2a2a2a" stroke-width="0.95"/>
<line x1="91.30" y1="276.25" x2="91.30" y2="279.65" stroke="#1a1a1a" stroke-width="1.1"/>
<rect x="103.00" y="284.72" width="2.20" height="7.60" fill="#14508a" stroke="#0b4079" stroke-width="0.6"/>
<line x1="105.20" y1="288.52" x2="107.00" y2="288.52" stroke="#2a2a2a" stroke-width="0.95"/>
<line x1="107.00" y1="286.82" x2="107.00" y2="290.22" stroke="#1a1a1a" stroke-width="1.1"/>
<rect x="101.30" y="295.29" width="1.70" height="7.60" fill="#14508a" stroke="#0b4079" stroke-width="0.6"/>
<rect x="103.00" y="305.86" width="51.50" height="7.60" fill="#14508a" stroke="#0b4079" stroke-width="0.6"/>
<line x1="154.50" y1="309.66" x2="160.00" y2="309.66" stroke="#2a2a2a" stroke-width="0.95"/>
<line x1="160.00" y1="307.96" x2="160.00" y2="311.36" stroke="#1a1a1a" stroke-width="1.1"/>
<rect x="103.00" y="316.43" width="43.30" height="7.60" fill="#14508a" stroke="#0b4079" stroke-width="0.6"/>
<line x1="146.30" y1="320.23" x2="152.00" y2="320.23" stroke="#2a2a2a" stroke-width="0.95"/>
<line x1="152.00" y1="318.53" x2="152.00" y2="321.93" stroke="#1a1a1a" stroke-width="1.1"/>
<rect x="103.00" y="327.00" width="49.50" height="7.60" fill="#14508a" stroke="#0b4079" stroke-width="0.6"/>
<line x1="152.50" y1="330.80" x2="157.50" y2="330.80" stroke="#2a2a2a" stroke-width="0.95"/>
<line x1="157.50" y1="329.10" x2="157.50" y2="332.50" stroke="#1a1a1a" stroke-width="1.1"/>
<path d="M162.50,329.40V332.20M161.28,330.10L163.72,331.50M161.28,331.50L163.72,330.10" stroke="#1a1a1a" stroke-width="0.85"/>
<rect x="103.00" y="337.57" width="45.30" height="7.60" fill="#14508a" stroke="#0b4079" stroke-width="0.6"/>
<line x1="148.30" y1="341.37" x2="153.80" y2="341.37" stroke="#2a2a2a" stroke-width="0.95"/>
<line x1="153.80" y1="339.67" x2="153.80" y2="343.07" stroke="#1a1a1a" stroke-width="1.1"/>
<path d="M159.30,339.97V342.77M158.08,340.67L160.52,342.07M158.08,342.07L160.52,340.67" stroke="#1a1a1a" stroke-width="0.85"/>
<rect x="103.00" y="348.14" width="58.80" height="7.60" fill="#14508a" stroke="#0b4079" stroke-width="0.6"/>
<line x1="161.80" y1="351.94" x2="164.50" y2="351.94" stroke="#2a2a2a" stroke-width="0.95"/>
<line x1="164.50" y1="350.24" x2="164.50" y2="353.64" stroke="#1a1a1a" stroke-width="1.1"/>
<path d="M168.80,350.54V353.34M167.58,351.24L170.02,352.64M167.58,352.64L170.02,351.24" stroke="#1a1a1a" stroke-width="0.85"/>
<rect x="103.00" y="358.71" width="64.00" height="7.60" fill="#14508a" stroke="#0b4079" stroke-width="0.6"/>
<line x1="167.00" y1="362.51" x2="172.50" y2="362.51" stroke="#2a2a2a" stroke-width="0.95"/>
<line x1="172.50" y1="360.81" x2="172.50" y2="364.21" stroke="#1a1a1a" stroke-width="1.1"/>
<rect x="103.00" y="369.28" width="49.50" height="7.60" fill="#14508a" stroke="#0b4079" stroke-width="0.6"/>
<line x1="152.50" y1="373.08" x2="158.30" y2="373.08" stroke="#2a2a2a" stroke-width="0.95"/>
<line x1="158.30" y1="371.38" x2="158.30" y2="374.78" stroke="#1a1a1a" stroke-width="1.1"/>
<rect x="103.00" y="379.85" width="49.00" height="7.60" fill="#14508a" stroke="#0b4079" stroke-width="0.6"/>
<line x1="152.00" y1="383.65" x2="157.00" y2="383.65" stroke="#2a2a2a" stroke-width="0.95"/>
<line x1="157.00" y1="381.95" x2="157.00" y2="385.35" stroke="#1a1a1a" stroke-width="1.1"/>
<rect x="102.60" y="390.42" width="0.40" height="7.60" fill="#14508a" stroke="#0b4079" stroke-width="0.6"/>
<line x1="102.60" y1="394.22" x2="98.80" y2="394.22" stroke="#2a2a2a" stroke-width="0.95"/>
<line x1="98.80" y1="392.52" x2="98.80" y2="395.92" stroke="#1a1a1a" stroke-width="1.1"/>
<rect x="100.00" y="400.99" width="3.00" height="7.60" fill="#14508a" stroke="#0b4079" stroke-width="0.6"/>
<line x1="100.00" y1="404.79" x2="96.80" y2="404.79" stroke="#2a2a2a" stroke-width="0.95"/>
<line x1="96.80" y1="403.09" x2="96.80" y2="406.49" stroke="#1a1a1a" stroke-width="1.1"/>
<rect x="99.30" y="411.56" width="3.70" height="7.60" fill="#14508a" stroke="#0b4079" stroke-width="0.6"/>
<line x1="99.30" y1="415.36" x2="93.80" y2="415.36" stroke="#2a2a2a" stroke-width="0.95"/>
<line x1="93.80" y1="413.66" x2="93.80" y2="417.06" stroke="#1a1a1a" stroke-width="1.1"/>
<rect x="103.00" y="422.13" width="1.30" height="7.60" fill="#14508a" stroke="#0b4079" stroke-width="0.6"/>
<line x1="104.30" y1="425.93" x2="106.20" y2="425.93" stroke="#2a2a2a" stroke-width="0.95"/>
<line x1="106.20" y1="424.23" x2="106.20" y2="427.63" stroke="#1a1a1a" stroke-width="1.1"/>
<rect x="93.50" y="432.70" width="9.50" height="7.60" fill="#14508a" stroke="#0b4079" stroke-width="0.6"/>
<line x1="93.50" y1="436.50" x2="83.80" y2="436.50" stroke="#2a2a2a" stroke-width="0.95"/>
<line x1="83.80" y1="434.80" x2="83.80" y2="438.20" stroke="#1a1a1a" stroke-width="1.1"/>
<rect x="103.00" y="453.84" width="2.00" height="7.60" fill="#14508a" stroke="#0b4079" stroke-width="0.6"/>
<line x1="105.00" y1="457.64" x2="110.80" y2="457.64" stroke="#2a2a2a" stroke-width="0.95"/>
<line x1="110.80" y1="455.94" x2="110.80" y2="459.34" stroke="#1a1a1a" stroke-width="1.1"/>
<rect x="103.00" y="464.41" width="2.50" height="7.60" fill="#14508a" stroke="#0b4079" stroke-width="0.6"/>
<line x1="105.50" y1="468.21" x2="107.50" y2="468.21" stroke="#2a2a2a" stroke-width="0.95"/>
<line x1="107.50" y1="466.51" x2="107.50" y2="469.91" stroke="#1a1a1a" stroke-width="1.1"/>
<rect x="101.20" y="474.98" width="1.80" height="7.60" fill="#14508a" stroke="#0b4079" stroke-width="0.6"/>
<line x1="103.00" y1="217.50" x2="103.00" y2="486.00" stroke="#1a1a1a" stroke-width="1.3"/>
<line x1="72.50" y1="493.20" x2="202.50" y2="493.20" stroke="#1a1a1a" stroke-width="1.2"/>
<line x1="84.00" y1="493.20" x2="84.00" y2="496.00" stroke="#1a1a1a" stroke-width="0.9"/>
<text x="84.30" y="505.50" font-size="8.1" text-anchor="middle" fill="#222">10<tspan font-size="5.35" dy="-2.6">−1</tspan></text>
<line x1="89.72" y1="493.20" x2="89.72" y2="495.60" stroke="#1a1a1a" stroke-width="1.2"/>
<line x1="93.07" y1="493.20" x2="93.07" y2="495.60" stroke="#1a1a1a" stroke-width="1.2"/>
<line x1="95.44" y1="493.20" x2="95.44" y2="495.60" stroke="#1a1a1a" stroke-width="1.2"/>
<line x1="97.28" y1="493.20" x2="97.28" y2="495.60" stroke="#1a1a1a" stroke-width="1.2"/>
<line x1="98.78" y1="493.20" x2="98.78" y2="495.60" stroke="#1a1a1a" stroke-width="1.2"/>
<line x1="100.06" y1="493.20" x2="100.06" y2="495.60" stroke="#1a1a1a" stroke-width="1.2"/>
<line x1="101.16" y1="493.20" x2="101.16" y2="495.60" stroke="#1a1a1a" stroke-width="1.2"/>
<line x1="102.13" y1="493.20" x2="102.13" y2="495.60" stroke="#1a1a1a" stroke-width="1.2"/>
<line x1="103.00" y1="493.20" x2="103.00" y2="496.00" stroke="#1a1a1a" stroke-width="0.9"/>
<text x="103.30" y="505.50" font-size="8.1" text-anchor="middle" fill="#222">10<tspan font-size="5.35" dy="-2.6">0</tspan></text>
<line x1="108.72" y1="493.20" x2="108.72" y2="495.60" stroke="#1a1a1a" stroke-width="1.2"/>
<line x1="112.07" y1="493.20" x2="112.07" y2="495.60" stroke="#1a1a1a" stroke-width="1.2"/>
<line x1="114.44" y1="493.20" x2="114.44" y2="495.60" stroke="#1a1a1a" stroke-width="1.2"/>
<line x1="116.28" y1="493.20" x2="116.28" y2="495.60" stroke="#1a1a1a" stroke-width="1.2"/>
<line x1="117.78" y1="493.20" x2="117.78" y2="495.60" stroke="#1a1a1a" stroke-width="1.2"/>
<line x1="119.06" y1="493.20" x2="119.06" y2="495.60" stroke="#1a1a1a" stroke-width="1.2"/>
<line x1="120.16" y1="493.20" x2="120.16" y2="495.60" stroke="#1a1a1a" stroke-width="1.2"/>
<line x1="121.13" y1="493.20" x2="121.13" y2="495.60" stroke="#1a1a1a" stroke-width="1.2"/>
<line x1="122.00" y1="493.20" x2="122.00" y2="496.00" stroke="#1a1a1a" stroke-width="0.9"/>
<text x="122.30" y="505.50" font-size="8.1" text-anchor="middle" fill="#222">10<tspan font-size="5.35" dy="-2.6">1</tspan></text>
<line x1="127.72" y1="493.20" x2="127.72" y2="495.60" stroke="#1a1a1a" stroke-width="1.2"/>
<line x1="131.07" y1="493.20" x2="131.07" y2="495.60" stroke="#1a1a1a" stroke-width="1.2"/>
<line x1="133.44" y1="493.20" x2="133.44" y2="495.60" stroke="#1a1a1a" stroke-width="1.2"/>
<line x1="135.28" y1="493.20" x2="135.28" y2="495.60" stroke="#1a1a1a" stroke-width="1.2"/>
<line x1="136.78" y1="493.20" x2="136.78" y2="495.60" stroke="#1a1a1a" stroke-width="1.2"/>
<line x1="138.06" y1="493.20" x2="138.06" y2="495.60" stroke="#1a1a1a" stroke-width="1.2"/>
<line x1="139.16" y1="493.20" x2="139.16" y2="495.60" stroke="#1a1a1a" stroke-width="1.2"/>
<line x1="140.13" y1="493.20" x2="140.13" y2="495.60" stroke="#1a1a1a" stroke-width="1.2"/>
<line x1="141.00" y1="493.20" x2="141.00" y2="496.00" stroke="#1a1a1a" stroke-width="0.9"/>
<text x="141.30" y="505.50" font-size="8.1" text-anchor="middle" fill="#222">10<tspan font-size="5.35" dy="-2.6">2</tspan></text>
<line x1="146.72" y1="493.20" x2="146.72" y2="495.60" stroke="#1a1a1a" stroke-width="1.2"/>
<line x1="150.07" y1="493.20" x2="150.07" y2="495.60" stroke="#1a1a1a" stroke-width="1.2"/>
<line x1="152.44" y1="493.20" x2="152.44" y2="495.60" stroke="#1a1a1a" stroke-width="1.2"/>
<line x1="154.28" y1="493.20" x2="154.28" y2="495.60" stroke="#1a1a1a" stroke-width="1.2"/>
<line x1="155.78" y1="493.20" x2="155.78" y2="495.60" stroke="#1a1a1a" stroke-width="1.2"/>
<line x1="157.06" y1="493.20" x2="157.06" y2="495.60" stroke="#1a1a1a" stroke-width="1.2"/>
<line x1="158.16" y1="493.20" x2="158.16" y2="495.60" stroke="#1a1a1a" stroke-width="1.2"/>
<line x1="159.13" y1="493.20" x2="159.13" y2="495.60" stroke="#1a1a1a" stroke-width="1.2"/>
<line x1="160.00" y1="493.20" x2="160.00" y2="496.00" stroke="#1a1a1a" stroke-width="0.9"/>
<text x="160.30" y="505.50" font-size="8.1" text-anchor="middle" fill="#222">10<tspan font-size="5.35" dy="-2.6">3</tspan></text>
<line x1="165.72" y1="493.20" x2="165.72" y2="495.60" stroke="#1a1a1a" stroke-width="1.2"/>
<line x1="169.07" y1="493.20" x2="169.07" y2="495.60" stroke="#1a1a1a" stroke-width="1.2"/>
<line x1="171.44" y1="493.20" x2="171.44" y2="495.60" stroke="#1a1a1a" stroke-width="1.2"/>
<line x1="173.28" y1="493.20" x2="173.28" y2="495.60" stroke="#1a1a1a" stroke-width="1.2"/>
<line x1="174.78" y1="493.20" x2="174.78" y2="495.60" stroke="#1a1a1a" stroke-width="1.2"/>
<line x1="176.06" y1="493.20" x2="176.06" y2="495.60" stroke="#1a1a1a" stroke-width="1.2"/>
<line x1="177.16" y1="493.20" x2="177.16" y2="495.60" stroke="#1a1a1a" stroke-width="1.2"/>
<line x1="178.13" y1="493.20" x2="178.13" y2="495.60" stroke="#1a1a1a" stroke-width="1.2"/>
<line x1="179.00" y1="493.20" x2="179.00" y2="496.00" stroke="#1a1a1a" stroke-width="0.9"/>
<text x="179.30" y="505.50" font-size="8.1" text-anchor="middle" fill="#222">10<tspan font-size="5.35" dy="-2.6">4</tspan></text>
<line x1="184.72" y1="493.20" x2="184.72" y2="495.60" stroke="#1a1a1a" stroke-width="1.2"/>
<line x1="188.07" y1="493.20" x2="188.07" y2="495.60" stroke="#1a1a1a" stroke-width="1.2"/>
<line x1="190.44" y1="493.20" x2="190.44" y2="495.60" stroke="#1a1a1a" stroke-width="1.2"/>
<line x1="192.28" y1="493.20" x2="192.28" y2="495.60" stroke="#1a1a1a" stroke-width="1.2"/>
<line x1="193.78" y1="493.20" x2="193.78" y2="495.60" stroke="#1a1a1a" stroke-width="1.2"/>
<line x1="195.06" y1="493.20" x2="195.06" y2="495.60" stroke="#1a1a1a" stroke-width="1.2"/>
<line x1="196.16" y1="493.20" x2="196.16" y2="495.60" stroke="#1a1a1a" stroke-width="1.2"/>
<line x1="197.13" y1="493.20" x2="197.13" y2="495.60" stroke="#1a1a1a" stroke-width="1.2"/>
<line x1="198.00" y1="493.20" x2="198.00" y2="496.00" stroke="#1a1a1a" stroke-width="0.9"/>
<text x="198.30" y="505.50" font-size="8.1" text-anchor="middle" fill="#222">10<tspan font-size="5.35" dy="-2.6">5</tspan></text>
<text x="136.60" y="517.70" font-size="8.6" text-anchor="middle" textLength="38" lengthAdjust="spacingAndGlyphs" stroke="#1c1c1c" stroke-width="0.15">Fold increase</text>
<text x="137.10" y="527.60" font-size="8.2" text-anchor="middle" font-style="italic" textLength="78.9" lengthAdjust="spacingAndGlyphs" stroke="#1c1c1c" stroke-width="0.2">(SARS-CoV-2 vs uninfected)</text>
<line x1="255.20" y1="217.00" x2="255.20" y2="486.00" stroke="#1a1a1a" stroke-width="1.2"/>
<rect x="255.20" y="221.30" width="3.60" height="7.60" fill="#3cb44b" stroke="#2aa83c" stroke-width="0.6"/>
<line x1="258.80" y1="225.10" x2="260.50" y2="225.10" stroke="#2a2a2a" stroke-width="0.95"/>
<line x1="260.50" y1="223.40" x2="260.50" y2="226.80" stroke="#1a1a1a" stroke-width="1.1"/>
<rect x="255.20" y="231.87" width="3.10" height="7.60" fill="#3cb44b" stroke="#2aa83c" stroke-width="0.6"/>
<line x1="258.30" y1="235.67" x2="260.00" y2="235.67" stroke="#2a2a2a" stroke-width="0.95"/>
<line x1="260.00" y1="233.97" x2="260.00" y2="237.37" stroke="#1a1a1a" stroke-width="1.1"/>
<rect x="255.20" y="242.44" width="4.80" height="7.60" fill="#3cb44b" stroke="#2aa83c" stroke-width="0.6"/>
<line x1="260.00" y1="246.24" x2="262.50" y2="246.24" stroke="#2a2a2a" stroke-width="0.95"/>
<line x1="262.50" y1="244.54" x2="262.50" y2="247.94" stroke="#1a1a1a" stroke-width="1.1"/>
<rect x="253.30" y="253.01" width="1.90" height="7.60" fill="#3cb44b" stroke="#2aa83c" stroke-width="0.6"/>
<line x1="253.30" y1="256.81" x2="251.30" y2="256.81" stroke="#2a2a2a" stroke-width="0.95"/>
<line x1="251.30" y1="255.11" x2="251.30" y2="258.51" stroke="#1a1a1a" stroke-width="1.1"/>
<rect x="254.40" y="263.58" width="0.80" height="7.60" fill="#3cb44b" stroke="#2aa83c" stroke-width="0.6"/>
<line x1="254.40" y1="267.38" x2="251.80" y2="267.38" stroke="#2a2a2a" stroke-width="0.95"/>
<line x1="251.80" y1="265.68" x2="251.80" y2="269.08" stroke="#1a1a1a" stroke-width="1.1"/>
<rect x="255.20" y="274.15" width="32.50" height="7.60" fill="#3cb44b" stroke="#2aa83c" stroke-width="0.6"/>
<line x1="287.70" y1="277.95" x2="293.50" y2="277.95" stroke="#2a2a2a" stroke-width="0.95"/>
<line x1="293.50" y1="276.25" x2="293.50" y2="279.65" stroke="#1a1a1a" stroke-width="1.1"/>
<rect x="255.20" y="284.72" width="68.20" height="7.60" fill="#3cb44b" stroke="#2aa83c" stroke-width="0.6"/>
<line x1="323.40" y1="288.52" x2="329.50" y2="288.52" stroke="#2a2a2a" stroke-width="0.95"/>
<line x1="329.50" y1="286.82" x2="329.50" y2="290.22" stroke="#1a1a1a" stroke-width="1.1"/>
<rect x="255.20" y="295.29" width="76.10" height="7.60" fill="#3cb44b" stroke="#2aa83c" stroke-width="0.6"/>
<line x1="331.30" y1="299.09" x2="337.00" y2="299.09" stroke="#2a2a2a" stroke-width="0.95"/>
<line x1="337.00" y1="297.39" x2="337.00" y2="300.79" stroke="#1a1a1a" stroke-width="1.1"/>
<rect x="255.20" y="305.86" width="59.30" height="7.60" fill="#3cb44b" stroke="#2aa83c" stroke-width="0.6"/>
<line x1="314.50" y1="309.66" x2="320.50" y2="309.66" stroke="#2a2a2a" stroke-width="0.95"/>
<line x1="320.50" y1="307.96" x2="320.50" y2="311.36" stroke="#1a1a1a" stroke-width="1.1"/>
<rect x="255.20" y="316.43" width="43.60" height="7.60" fill="#3cb44b" stroke="#2aa83c" stroke-width="0.6"/>
<line x1="298.80" y1="320.23" x2="304.50" y2="320.23" stroke="#2a2a2a" stroke-width="0.95"/>
<line x1="304.50" y1="318.53" x2="304.50" y2="321.93" stroke="#1a1a1a" stroke-width="1.1"/>
<rect x="255.20" y="327.00" width="43.60" height="7.60" fill="#3cb44b" stroke="#2aa83c" stroke-width="0.6"/>
<line x1="298.80" y1="330.80" x2="304.50" y2="330.80" stroke="#2a2a2a" stroke-width="0.95"/>
<line x1="304.50" y1="329.10" x2="304.50" y2="332.50" stroke="#1a1a1a" stroke-width="1.1"/>
<path d="M309.50,329.40V332.20M308.28,330.10L310.72,331.50M308.28,331.50L310.72,330.10" stroke="#1a1a1a" stroke-width="0.85"/>
<rect x="255.20" y="337.57" width="48.10" height="7.60" fill="#3cb44b" stroke="#2aa83c" stroke-width="0.6"/>
<line x1="303.30" y1="341.37" x2="308.80" y2="341.37" stroke="#2a2a2a" stroke-width="0.95"/>
<line x1="308.80" y1="339.67" x2="308.80" y2="343.07" stroke="#1a1a1a" stroke-width="1.1"/>
<path d="M314.00,339.97V342.77M312.78,340.67L315.22,342.07M312.78,342.07L315.22,340.67" stroke="#1a1a1a" stroke-width="0.85"/>
<rect x="255.20" y="348.14" width="52.30" height="7.60" fill="#3cb44b" stroke="#2aa83c" stroke-width="0.6"/>
<line x1="307.50" y1="351.94" x2="310.50" y2="351.94" stroke="#2a2a2a" stroke-width="0.95"/>
<line x1="310.50" y1="350.24" x2="310.50" y2="353.64" stroke="#1a1a1a" stroke-width="1.1"/>
<path d="M315.80,350.54V353.34M314.58,351.24L317.02,352.64M314.58,352.64L317.02,351.24" stroke="#1a1a1a" stroke-width="0.85"/>
<rect x="255.20" y="358.71" width="63.10" height="7.60" fill="#3cb44b" stroke="#2aa83c" stroke-width="0.6"/>
<line x1="318.30" y1="362.51" x2="323.30" y2="362.51" stroke="#2a2a2a" stroke-width="0.95"/>
<line x1="323.30" y1="360.81" x2="323.30" y2="364.21" stroke="#1a1a1a" stroke-width="1.1"/>
<path d="M328.80,361.11V363.91M327.58,361.81L330.02,363.21M327.58,363.21L330.02,361.81" stroke="#1a1a1a" stroke-width="0.85"/>
<rect x="255.20" y="369.28" width="57.30" height="7.60" fill="#3cb44b" stroke="#2aa83c" stroke-width="0.6"/>
<line x1="312.50" y1="373.08" x2="317.50" y2="373.08" stroke="#2a2a2a" stroke-width="0.95"/>
<line x1="317.50" y1="371.38" x2="317.50" y2="374.78" stroke="#1a1a1a" stroke-width="1.1"/>
<path d="M322.50,371.68V374.48M321.28,372.38L323.72,373.78M321.28,373.78L323.72,372.38" stroke="#1a1a1a" stroke-width="0.85"/>
<rect x="255.20" y="379.85" width="61.60" height="7.60" fill="#3cb44b" stroke="#2aa83c" stroke-width="0.6"/>
<line x1="316.80" y1="383.65" x2="321.30" y2="383.65" stroke="#2a2a2a" stroke-width="0.95"/>
<line x1="321.30" y1="381.95" x2="321.30" y2="385.35" stroke="#1a1a1a" stroke-width="1.1"/>
<path d="M327.00,382.25V385.05M325.78,382.95L328.22,384.35M325.78,384.35L328.22,382.95" stroke="#1a1a1a" stroke-width="0.85"/>
<rect x="255.20" y="390.42" width="42.80" height="7.60" fill="#3cb44b" stroke="#2aa83c" stroke-width="0.6"/>
<line x1="298.00" y1="394.22" x2="303.30" y2="394.22" stroke="#2a2a2a" stroke-width="0.95"/>
<line x1="303.30" y1="392.52" x2="303.30" y2="395.92" stroke="#1a1a1a" stroke-width="1.1"/>
<path d="M308.30,392.82V395.62M307.08,393.52L309.52,394.92M307.08,394.92L309.52,393.52" stroke="#1a1a1a" stroke-width="0.85"/>
<rect x="255.20" y="400.99" width="46.60" height="7.60" fill="#3cb44b" stroke="#2aa83c" stroke-width="0.6"/>
<line x1="301.80" y1="404.79" x2="307.50" y2="404.79" stroke="#2a2a2a" stroke-width="0.95"/>
<line x1="307.50" y1="403.09" x2="307.50" y2="406.49" stroke="#1a1a1a" stroke-width="1.1"/>
<rect x="255.20" y="411.56" width="68.10" height="7.60" fill="#3cb44b" stroke="#2aa83c" stroke-width="0.6"/>
<line x1="323.30" y1="415.36" x2="327.00" y2="415.36" stroke="#2a2a2a" stroke-width="0.95"/>
<line x1="327.00" y1="413.66" x2="327.00" y2="417.06" stroke="#1a1a1a" stroke-width="1.1"/>
<path d="M332.00,413.96V416.76M330.78,414.66L333.22,416.06M330.78,416.06L333.22,414.66" stroke="#1a1a1a" stroke-width="0.85"/>
<rect x="255.20" y="422.13" width="30.30" height="7.60" fill="#3cb44b" stroke="#2aa83c" stroke-width="0.6"/>
<line x1="285.50" y1="425.93" x2="290.80" y2="425.93" stroke="#2a2a2a" stroke-width="0.95"/>
<line x1="290.80" y1="424.23" x2="290.80" y2="427.63" stroke="#1a1a1a" stroke-width="1.1"/>
<path d="M295.80,424.53V427.33M294.58,425.23L297.02,426.63M294.58,426.63L297.02,425.23" stroke="#1a1a1a" stroke-width="0.85"/>
<rect x="255.20" y="432.70" width="39.60" height="7.60" fill="#3cb44b" stroke="#2aa83c" stroke-width="0.6"/>
<line x1="294.80" y1="436.50" x2="299.80" y2="436.50" stroke="#2a2a2a" stroke-width="0.95"/>
<line x1="299.80" y1="434.80" x2="299.80" y2="438.20" stroke="#1a1a1a" stroke-width="1.1"/>
<path d="M305.00,435.10V437.90M303.78,435.80L306.22,437.20M303.78,437.20L306.22,435.80" stroke="#1a1a1a" stroke-width="0.85"/>
<rect x="255.20" y="443.27" width="50.30" height="7.60" fill="#3cb44b" stroke="#2aa83c" stroke-width="0.6"/>
<line x1="305.50" y1="447.07" x2="308.80" y2="447.07" stroke="#2a2a2a" stroke-width="0.95"/>
<line x1="308.80" y1="445.37" x2="308.80" y2="448.77" stroke="#1a1a1a" stroke-width="1.1"/>
<path d="M313.00,445.67V448.47M311.78,446.37L314.22,447.77M311.78,447.77L314.22,446.37" stroke="#1a1a1a" stroke-width="0.85"/>
<rect x="255.20" y="453.84" width="6.80" height="7.60" fill="#3cb44b" stroke="#2aa83c" stroke-width="0.6"/>
<line x1="262.00" y1="457.64" x2="265.80" y2="457.64" stroke="#2a2a2a" stroke-width="0.95"/>
<line x1="265.80" y1="455.94" x2="265.80" y2="459.34" stroke="#1a1a1a" stroke-width="1.1"/>
<path d="M271.30,456.24V459.04M270.08,456.94L272.52,458.34M270.08,458.34L272.52,456.94" stroke="#1a1a1a" stroke-width="0.85"/>
<rect x="255.20" y="464.41" width="7.30" height="7.60" fill="#3cb44b" stroke="#2aa83c" stroke-width="0.6"/>
<line x1="262.50" y1="468.21" x2="265.50" y2="468.21" stroke="#2a2a2a" stroke-width="0.95"/>
<line x1="265.50" y1="466.51" x2="265.50" y2="469.91" stroke="#1a1a1a" stroke-width="1.1"/>
<path d="M270.50,466.81V469.61M269.28,467.51L271.72,468.91M269.28,468.91L271.72,467.51" stroke="#1a1a1a" stroke-width="0.85"/>
<rect x="251.80" y="474.98" width="3.40" height="7.60" fill="#3cb44b" stroke="#2aa83c" stroke-width="0.6"/>
<line x1="255.20" y1="217.00" x2="255.20" y2="486.00" stroke="#1a1a1a" stroke-width="1.3"/>
<line x1="232.50" y1="493.20" x2="354.50" y2="493.20" stroke="#1a1a1a" stroke-width="1.2"/>
<line x1="236.20" y1="493.20" x2="236.20" y2="496.00" stroke="#1a1a1a" stroke-width="0.9"/>
<text x="236.50" y="505.50" font-size="8.1" text-anchor="middle" fill="#222">10<tspan font-size="5.35" dy="-2.6">−1</tspan></text>
<line x1="241.92" y1="493.20" x2="241.92" y2="495.60" stroke="#1a1a1a" stroke-width="1.2"/>
<line x1="245.27" y1="493.20" x2="245.27" y2="495.60" stroke="#1a1a1a" stroke-width="1.2"/>
<line x1="247.64" y1="493.20" x2="247.64" y2="495.60" stroke="#1a1a1a" stroke-width="1.2"/>
<line x1="249.48" y1="493.20" x2="249.48" y2="495.60" stroke="#1a1a1a" stroke-width="1.2"/>
<line x1="250.98" y1="493.20" x2="250.98" y2="495.60" stroke="#1a1a1a" stroke-width="1.2"/>
<line x1="252.26" y1="493.20" x2="252.26" y2="495.60" stroke="#1a1a1a" stroke-width="1.2"/>
<line x1="253.36" y1="493.20" x2="253.36" y2="495.60" stroke="#1a1a1a" stroke-width="1.2"/>
<line x1="254.33" y1="493.20" x2="254.33" y2="495.60" stroke="#1a1a1a" stroke-width="1.2"/>
<line x1="255.20" y1="493.20" x2="255.20" y2="496.00" stroke="#1a1a1a" stroke-width="0.9"/>
<text x="255.50" y="505.50" font-size="8.1" text-anchor="middle" fill="#222">10<tspan font-size="5.35" dy="-2.6">0</tspan></text>
<line x1="260.92" y1="493.20" x2="260.92" y2="495.60" stroke="#1a1a1a" stroke-width="1.2"/>
<line x1="264.27" y1="493.20" x2="264.27" y2="495.60" stroke="#1a1a1a" stroke-width="1.2"/>
<line x1="266.64" y1="493.20" x2="266.64" y2="495.60" stroke="#1a1a1a" stroke-width="1.2"/>
<line x1="268.48" y1="493.20" x2="268.48" y2="495.60" stroke="#1a1a1a" stroke-width="1.2"/>
<line x1="269.98" y1="493.20" x2="269.98" y2="495.60" stroke="#1a1a1a" stroke-width="1.2"/>
<line x1="271.26" y1="493.20" x2="271.26" y2="495.60" stroke="#1a1a1a" stroke-width="1.2"/>
<line x1="272.36" y1="493.20" x2="272.36" y2="495.60" stroke="#1a1a1a" stroke-width="1.2"/>
<line x1="273.33" y1="493.20" x2="273.33" y2="495.60" stroke="#1a1a1a" stroke-width="1.2"/>
<line x1="274.20" y1="493.20" x2="274.20" y2="496.00" stroke="#1a1a1a" stroke-width="0.9"/>
<text x="274.50" y="505.50" font-size="8.1" text-anchor="middle" fill="#222">10<tspan font-size="5.35" dy="-2.6">1</tspan></text>
<line x1="279.92" y1="493.20" x2="279.92" y2="495.60" stroke="#1a1a1a" stroke-width="1.2"/>
<line x1="283.27" y1="493.20" x2="283.27" y2="495.60" stroke="#1a1a1a" stroke-width="1.2"/>
<line x1="285.64" y1="493.20" x2="285.64" y2="495.60" stroke="#1a1a1a" stroke-width="1.2"/>
<line x1="287.48" y1="493.20" x2="287.48" y2="495.60" stroke="#1a1a1a" stroke-width="1.2"/>
<line x1="288.98" y1="493.20" x2="288.98" y2="495.60" stroke="#1a1a1a" stroke-width="1.2"/>
<line x1="290.26" y1="493.20" x2="290.26" y2="495.60" stroke="#1a1a1a" stroke-width="1.2"/>
<line x1="291.36" y1="493.20" x2="291.36" y2="495.60" stroke="#1a1a1a" stroke-width="1.2"/>
<line x1="292.33" y1="493.20" x2="292.33" y2="495.60" stroke="#1a1a1a" stroke-width="1.2"/>
<line x1="293.20" y1="493.20" x2="293.20" y2="496.00" stroke="#1a1a1a" stroke-width="0.9"/>
<text x="293.50" y="505.50" font-size="8.1" text-anchor="middle" fill="#222">10<tspan font-size="5.35" dy="-2.6">2</tspan></text>
<line x1="298.92" y1="493.20" x2="298.92" y2="495.60" stroke="#1a1a1a" stroke-width="1.2"/>
<line x1="302.27" y1="493.20" x2="302.27" y2="495.60" stroke="#1a1a1a" stroke-width="1.2"/>
<line x1="304.64" y1="493.20" x2="304.64" y2="495.60" stroke="#1a1a1a" stroke-width="1.2"/>
<line x1="306.48" y1="493.20" x2="306.48" y2="495.60" stroke="#1a1a1a" stroke-width="1.2"/>
<line x1="307.98" y1="493.20" x2="307.98" y2="495.60" stroke="#1a1a1a" stroke-width="1.2"/>
<line x1="309.26" y1="493.20" x2="309.26" y2="495.60" stroke="#1a1a1a" stroke-width="1.2"/>
<line x1="310.36" y1="493.20" x2="310.36" y2="495.60" stroke="#1a1a1a" stroke-width="1.2"/>
<line x1="311.33" y1="493.20" x2="311.33" y2="495.60" stroke="#1a1a1a" stroke-width="1.2"/>
<line x1="312.20" y1="493.20" x2="312.20" y2="496.00" stroke="#1a1a1a" stroke-width="0.9"/>
<text x="312.50" y="505.50" font-size="8.1" text-anchor="middle" fill="#222">10<tspan font-size="5.35" dy="-2.6">3</tspan></text>
<line x1="317.92" y1="493.20" x2="317.92" y2="495.60" stroke="#1a1a1a" stroke-width="1.2"/>
<line x1="321.27" y1="493.20" x2="321.27" y2="495.60" stroke="#1a1a1a" stroke-width="1.2"/>
<line x1="323.64" y1="493.20" x2="323.64" y2="495.60" stroke="#1a1a1a" stroke-width="1.2"/>
<line x1="325.48" y1="493.20" x2="325.48" y2="495.60" stroke="#1a1a1a" stroke-width="1.2"/>
<line x1="326.98" y1="493.20" x2="326.98" y2="495.60" stroke="#1a1a1a" stroke-width="1.2"/>
<line x1="328.26" y1="493.20" x2="328.26" y2="495.60" stroke="#1a1a1a" stroke-width="1.2"/>
<line x1="329.36" y1="493.20" x2="329.36" y2="495.60" stroke="#1a1a1a" stroke-width="1.2"/>
<line x1="330.33" y1="493.20" x2="330.33" y2="495.60" stroke="#1a1a1a" stroke-width="1.2"/>
<line x1="331.20" y1="493.20" x2="331.20" y2="496.00" stroke="#1a1a1a" stroke-width="0.9"/>
<text x="331.50" y="505.50" font-size="8.1" text-anchor="middle" fill="#222">10<tspan font-size="5.35" dy="-2.6">4</tspan></text>
<line x1="336.92" y1="493.20" x2="336.92" y2="495.60" stroke="#1a1a1a" stroke-width="1.2"/>
<line x1="340.27" y1="493.20" x2="340.27" y2="495.60" stroke="#1a1a1a" stroke-width="1.2"/>
<line x1="342.64" y1="493.20" x2="342.64" y2="495.60" stroke="#1a1a1a" stroke-width="1.2"/>
<line x1="344.48" y1="493.20" x2="344.48" y2="495.60" stroke="#1a1a1a" stroke-width="1.2"/>
<line x1="345.98" y1="493.20" x2="345.98" y2="495.60" stroke="#1a1a1a" stroke-width="1.2"/>
<line x1="347.26" y1="493.20" x2="347.26" y2="495.60" stroke="#1a1a1a" stroke-width="1.2"/>
<line x1="348.36" y1="493.20" x2="348.36" y2="495.60" stroke="#1a1a1a" stroke-width="1.2"/>
<line x1="349.33" y1="493.20" x2="349.33" y2="495.60" stroke="#1a1a1a" stroke-width="1.2"/>
<line x1="350.20" y1="493.20" x2="350.20" y2="496.00" stroke="#1a1a1a" stroke-width="0.9"/>
<text x="350.50" y="505.50" font-size="8.1" text-anchor="middle" fill="#222">10<tspan font-size="5.35" dy="-2.6">5</tspan></text>
<text x="292.60" y="517.80" font-size="8.6" text-anchor="middle" textLength="38" lengthAdjust="spacingAndGlyphs" stroke="#1c1c1c" stroke-width="0.15">Fold increase</text>
<text x="293.00" y="527.60" font-size="8.2" text-anchor="middle" font-style="italic" textLength="78.9" lengthAdjust="spacingAndGlyphs" stroke="#1c1c1c" stroke-width="0.2">(SARS-CoV-2 vs uninfected)</text>
<line x1="408.80" y1="217.50" x2="408.80" y2="486.50" stroke="#1a1a1a" stroke-width="1.2"/>
<rect x="408.80" y="221.30" width="64.20" height="7.60" fill="#c4122f" stroke="#b80a27" stroke-width="0.6"/>
<line x1="473.00" y1="225.10" x2="475.90" y2="225.10" stroke="#2a2a2a" stroke-width="0.95"/>
<line x1="475.90" y1="223.40" x2="475.90" y2="226.80" stroke="#1a1a1a" stroke-width="1.1"/>
<path d="M480.80,223.70V226.50M479.58,224.40L482.02,225.80M479.58,225.80L482.02,224.40" stroke="#1a1a1a" stroke-width="0.85"/>
<rect x="408.80" y="231.87" width="44.80" height="7.60" fill="#c4122f" stroke="#b80a27" stroke-width="0.6"/>
<line x1="453.60" y1="235.67" x2="459.40" y2="235.67" stroke="#2a2a2a" stroke-width="0.95"/>
<line x1="459.40" y1="233.97" x2="459.40" y2="237.37" stroke="#1a1a1a" stroke-width="1.1"/>
<path d="M464.30,234.27V237.07M463.08,234.97L465.52,236.37M463.08,236.37L465.52,234.97" stroke="#1a1a1a" stroke-width="0.85"/>
<rect x="408.80" y="242.44" width="4.50" height="7.60" fill="#c4122f" stroke="#b80a27" stroke-width="0.6"/>
<line x1="413.30" y1="246.24" x2="415.30" y2="246.24" stroke="#2a2a2a" stroke-width="0.95"/>
<line x1="415.30" y1="244.54" x2="415.30" y2="247.94" stroke="#1a1a1a" stroke-width="1.1"/>
<rect x="408.80" y="253.01" width="1.40" height="7.60" fill="#c4122f" stroke="#b80a27" stroke-width="0.6"/>
<line x1="410.20" y1="256.81" x2="411.00" y2="256.81" stroke="#2a2a2a" stroke-width="0.95"/>
<line x1="411.00" y1="255.11" x2="411.00" y2="258.51" stroke="#1a1a1a" stroke-width="1.1"/>
<rect x="408.80" y="263.58" width="81.80" height="7.60" fill="#c4122f" stroke="#b80a27" stroke-width="0.6"/>
<line x1="490.60" y1="267.38" x2="494.60" y2="267.38" stroke="#2a2a2a" stroke-width="0.95"/>
<line x1="494.60" y1="265.68" x2="494.60" y2="269.08" stroke="#1a1a1a" stroke-width="1.1"/>
<path d="M499.80,265.98V268.78M498.58,266.68L501.02,268.08M498.58,268.08L501.02,266.68" stroke="#1a1a1a" stroke-width="0.85"/>
<rect x="408.80" y="274.15" width="32.40" height="7.60" fill="#c4122f" stroke="#b80a27" stroke-width="0.6"/>
<line x1="441.20" y1="277.95" x2="447.40" y2="277.95" stroke="#2a2a2a" stroke-width="0.95"/>
<line x1="447.40" y1="276.25" x2="447.40" y2="279.65" stroke="#1a1a1a" stroke-width="1.1"/>
<rect x="408.80" y="284.72" width="68.70" height="7.60" fill="#c4122f" stroke="#b80a27" stroke-width="0.6"/>
<line x1="477.50" y1="288.52" x2="483.00" y2="288.52" stroke="#2a2a2a" stroke-width="0.95"/>
<line x1="483.00" y1="286.82" x2="483.00" y2="290.22" stroke="#1a1a1a" stroke-width="1.1"/>
<path d="M488.00,287.12V289.92M486.78,287.82L489.22,289.22M486.78,289.22L489.22,287.82" stroke="#1a1a1a" stroke-width="0.85"/>
<rect x="408.80" y="295.29" width="5.50" height="7.60" fill="#c4122f" stroke="#b80a27" stroke-width="0.6"/>
<line x1="414.30" y1="299.09" x2="415.80" y2="299.09" stroke="#2a2a2a" stroke-width="0.95"/>
<line x1="415.80" y1="297.39" x2="415.80" y2="300.79" stroke="#1a1a1a" stroke-width="1.1"/>
<path d="M420.80,297.69V300.49M419.58,298.39L422.02,299.79M419.58,299.79L422.02,298.39" stroke="#1a1a1a" stroke-width="0.85"/>
<rect x="408.80" y="305.86" width="4.20" height="7.60" fill="#c4122f" stroke="#b80a27" stroke-width="0.6"/>
<line x1="413.00" y1="309.66" x2="417.00" y2="309.66" stroke="#2a2a2a" stroke-width="0.95"/>
<line x1="417.00" y1="307.96" x2="417.00" y2="311.36" stroke="#1a1a1a" stroke-width="1.1"/>
<rect x="408.80" y="316.43" width="6.20" height="7.60" fill="#c4122f" stroke="#b80a27" stroke-width="0.6"/>
<line x1="415.00" y1="320.23" x2="416.80" y2="320.23" stroke="#2a2a2a" stroke-width="0.95"/>
<line x1="416.80" y1="318.53" x2="416.80" y2="321.93" stroke="#1a1a1a" stroke-width="1.1"/>
<rect x="405.00" y="327.00" width="3.80" height="7.60" fill="#c4122f" stroke="#b80a27" stroke-width="0.6"/>
<line x1="405.00" y1="330.80" x2="403.80" y2="330.80" stroke="#2a2a2a" stroke-width="0.95"/>
<line x1="403.80" y1="329.10" x2="403.80" y2="332.50" stroke="#1a1a1a" stroke-width="1.1"/>
<rect x="408.80" y="337.57" width="3.70" height="7.60" fill="#c4122f" stroke="#b80a27" stroke-width="0.6"/>
<line x1="412.50" y1="341.37" x2="413.80" y2="341.37" stroke="#2a2a2a" stroke-width="0.95"/>
<line x1="413.80" y1="339.67" x2="413.80" y2="343.07" stroke="#1a1a1a" stroke-width="1.1"/>
<rect x="403.80" y="348.14" width="5.00" height="7.60" fill="#c4122f" stroke="#b80a27" stroke-width="0.6"/>
<line x1="403.80" y1="351.94" x2="401.30" y2="351.94" stroke="#2a2a2a" stroke-width="0.95"/>
<line x1="401.30" y1="350.24" x2="401.30" y2="353.64" stroke="#1a1a1a" stroke-width="1.1"/>
<rect x="408.80" y="358.71" width="8.20" height="7.60" fill="#c4122f" stroke="#b80a27" stroke-width="0.6"/>
<line x1="417.00" y1="362.51" x2="419.30" y2="362.51" stroke="#2a2a2a" stroke-width="0.95"/>
<line x1="419.30" y1="360.81" x2="419.30" y2="364.21" stroke="#1a1a1a" stroke-width="1.1"/>
<path d="M424.50,361.11V363.91M423.28,361.81L425.72,363.21M423.28,363.21L425.72,361.81" stroke="#1a1a1a" stroke-width="0.85"/>
<rect x="408.80" y="369.28" width="10.70" height="7.60" fill="#c4122f" stroke="#b80a27" stroke-width="0.6"/>
<line x1="419.50" y1="373.08" x2="422.00" y2="373.08" stroke="#2a2a2a" stroke-width="0.95"/>
<line x1="422.00" y1="371.38" x2="422.00" y2="374.78" stroke="#1a1a1a" stroke-width="1.1"/>
<path d="M427.00,371.68V374.48M425.78,372.38L428.22,373.78M425.78,373.78L428.22,372.38" stroke="#1a1a1a" stroke-width="0.85"/>
<rect x="408.80" y="379.85" width="61.20" height="7.60" fill="#c4122f" stroke="#b80a27" stroke-width="0.6"/>
<line x1="470.00" y1="383.65" x2="475.50" y2="383.65" stroke="#2a2a2a" stroke-width="0.95"/>
<line x1="475.50" y1="381.95" x2="475.50" y2="385.35" stroke="#1a1a1a" stroke-width="1.1"/>
<path d="M480.80,382.25V385.05M479.58,382.95L482.02,384.35M479.58,384.35L482.02,382.95" stroke="#1a1a1a" stroke-width="0.85"/>
<rect x="408.80" y="390.42" width="43.00" height="7.60" fill="#c4122f" stroke="#b80a27" stroke-width="0.6"/>
<line x1="451.80" y1="394.22" x2="457.00" y2="394.22" stroke="#2a2a2a" stroke-width="0.95"/>
<line x1="457.00" y1="392.52" x2="457.00" y2="395.92" stroke="#1a1a1a" stroke-width="1.1"/>
<path d="M461.80,392.82V395.62M460.58,393.52L463.02,394.92M460.58,394.92L463.02,393.52" stroke="#1a1a1a" stroke-width="0.85"/>
<rect x="408.80" y="400.99" width="46.20" height="7.60" fill="#c4122f" stroke="#b80a27" stroke-width="0.6"/>
<line x1="455.00" y1="404.79" x2="460.00" y2="404.79" stroke="#2a2a2a" stroke-width="0.95"/>
<line x1="460.00" y1="403.09" x2="460.00" y2="406.49" stroke="#1a1a1a" stroke-width="1.1"/>
<path d="M465.80,403.39V406.19M464.58,404.09L467.02,405.49M464.58,405.49L467.02,404.09" stroke="#1a1a1a" stroke-width="0.85"/>
<rect x="408.80" y="411.56" width="68.00" height="7.60" fill="#c4122f" stroke="#b80a27" stroke-width="0.6"/>
<line x1="476.80" y1="415.36" x2="480.50" y2="415.36" stroke="#2a2a2a" stroke-width="0.95"/>
<line x1="480.50" y1="413.66" x2="480.50" y2="417.06" stroke="#1a1a1a" stroke-width="1.1"/>
<path d="M485.50,413.96V416.76M484.28,414.66L486.72,416.06M484.28,416.06L486.72,414.66" stroke="#1a1a1a" stroke-width="0.85"/>
<rect x="408.80" y="422.13" width="30.00" height="7.60" fill="#c4122f" stroke="#b80a27" stroke-width="0.6"/>
<line x1="438.80" y1="425.93" x2="443.80" y2="425.93" stroke="#2a2a2a" stroke-width="0.95"/>
<line x1="443.80" y1="424.23" x2="443.80" y2="427.63" stroke="#1a1a1a" stroke-width="1.1"/>
<path d="M449.30,424.53V427.33M448.08,425.23L450.52,426.63M448.08,426.63L450.52,425.23" stroke="#1a1a1a" stroke-width="0.85"/>
<rect x="408.80" y="432.70" width="53.50" height="7.60" fill="#c4122f" stroke="#b80a27" stroke-width="0.6"/>
<line x1="462.30" y1="436.50" x2="465.50" y2="436.50" stroke="#2a2a2a" stroke-width="0.95"/>
<line x1="465.50" y1="434.80" x2="465.50" y2="438.20" stroke="#1a1a1a" stroke-width="1.1"/>
<path d="M471.00,435.10V437.90M469.78,435.80L472.22,437.20M469.78,437.20L472.22,435.80" stroke="#1a1a1a" stroke-width="0.85"/>
<rect x="408.80" y="443.27" width="48.50" height="7.60" fill="#c4122f" stroke="#b80a27" stroke-width="0.6"/>
<line x1="457.30" y1="447.07" x2="460.20" y2="447.07" stroke="#2a2a2a" stroke-width="0.95"/>
<line x1="460.20" y1="445.37" x2="460.20" y2="448.77" stroke="#1a1a1a" stroke-width="1.1"/>
<path d="M466.20,445.67V448.47M464.98,446.37L467.42,447.77M464.98,447.77L467.42,446.37" stroke="#1a1a1a" stroke-width="0.85"/>
<rect x="408.80" y="453.84" width="8.40" height="7.60" fill="#c4122f" stroke="#b80a27" stroke-width="0.6"/>
<line x1="417.20" y1="457.64" x2="420.40" y2="457.64" stroke="#2a2a2a" stroke-width="0.95"/>
<line x1="420.40" y1="455.94" x2="420.40" y2="459.34" stroke="#1a1a1a" stroke-width="1.1"/>
<path d="M425.80,456.24V459.04M424.58,456.94L427.02,458.34M424.58,458.34L427.02,456.94" stroke="#1a1a1a" stroke-width="0.85"/>
<rect x="408.80" y="464.41" width="5.70" height="7.60" fill="#c4122f" stroke="#b80a27" stroke-width="0.6"/>
<line x1="414.50" y1="468.21" x2="419.00" y2="468.21" stroke="#2a2a2a" stroke-width="0.95"/>
<line x1="419.00" y1="466.51" x2="419.00" y2="469.91" stroke="#1a1a1a" stroke-width="1.1"/>
<path d="M423.60,466.81V469.61M422.38,467.51L424.82,468.91M422.38,468.91L424.82,467.51" stroke="#1a1a1a" stroke-width="0.85"/>
<rect x="408.20" y="474.98" width="0.60" height="7.60" fill="#c4122f" stroke="#b80a27" stroke-width="0.6"/>
<line x1="408.80" y1="217.50" x2="408.80" y2="486.50" stroke="#1a1a1a" stroke-width="1.3"/>
<line x1="386.00" y1="493.20" x2="508.50" y2="493.20" stroke="#1a1a1a" stroke-width="1.2"/>
<line x1="389.80" y1="493.20" x2="389.80" y2="496.00" stroke="#1a1a1a" stroke-width="0.9"/>
<text x="390.10" y="505.30" font-size="8.1" text-anchor="middle" fill="#222">10<tspan font-size="5.35" dy="-2.6">−1</tspan></text>
<line x1="395.52" y1="493.20" x2="395.52" y2="495.60" stroke="#1a1a1a" stroke-width="1.2"/>
<line x1="398.87" y1="493.20" x2="398.87" y2="495.60" stroke="#1a1a1a" stroke-width="1.2"/>
<line x1="401.24" y1="493.20" x2="401.24" y2="495.60" stroke="#1a1a1a" stroke-width="1.2"/>
<line x1="403.08" y1="493.20" x2="403.08" y2="495.60" stroke="#1a1a1a" stroke-width="1.2"/>
<line x1="404.58" y1="493.20" x2="404.58" y2="495.60" stroke="#1a1a1a" stroke-width="1.2"/>
<line x1="405.86" y1="493.20" x2="405.86" y2="495.60" stroke="#1a1a1a" stroke-width="1.2"/>
<line x1="406.96" y1="493.20" x2="406.96" y2="495.60" stroke="#1a1a1a" stroke-width="1.2"/>
<line x1="407.93" y1="493.20" x2="407.93" y2="495.60" stroke="#1a1a1a" stroke-width="1.2"/>
<line x1="408.80" y1="493.20" x2="408.80" y2="496.00" stroke="#1a1a1a" stroke-width="0.9"/>
<text x="409.10" y="505.30" font-size="8.1" text-anchor="middle" fill="#222">10<tspan font-size="5.35" dy="-2.6">0</tspan></text>
<line x1="414.52" y1="493.20" x2="414.52" y2="495.60" stroke="#1a1a1a" stroke-width="1.2"/>
<line x1="417.87" y1="493.20" x2="417.87" y2="495.60" stroke="#1a1a1a" stroke-width="1.2"/>
<line x1="420.24" y1="493.20" x2="420.24" y2="495.60" stroke="#1a1a1a" stroke-width="1.2"/>
<line x1="422.08" y1="493.20" x2="422.08" y2="495.60" stroke="#1a1a1a" stroke-width="1.2"/>
<line x1="423.58" y1="493.20" x2="423.58" y2="495.60" stroke="#1a1a1a" stroke-width="1.2"/>
<line x1="424.86" y1="493.20" x2="424.86" y2="495.60" stroke="#1a1a1a" stroke-width="1.2"/>
<line x1="425.96" y1="493.20" x2="425.96" y2="495.60" stroke="#1a1a1a" stroke-width="1.2"/>
<line x1="426.93" y1="493.20" x2="426.93" y2="495.60" stroke="#1a1a1a" stroke-width="1.2"/>
<line x1="427.80" y1="493.20" x2="427.80" y2="496.00" stroke="#1a1a1a" stroke-width="0.9"/>
<text x="428.10" y="505.30" font-size="8.1" text-anchor="middle" fill="#222">10<tspan font-size="5.35" dy="-2.6">1</tspan></text>
<line x1="433.52" y1="493.20" x2="433.52" y2="495.60" stroke="#1a1a1a" stroke-width="1.2"/>
<line x1="436.87" y1="493.20" x2="436.87" y2="495.60" stroke="#1a1a1a" stroke-width="1.2"/>
<line x1="439.24" y1="493.20" x2="439.24" y2="495.60" stroke="#1a1a1a" stroke-width="1.2"/>
<line x1="441.08" y1="493.20" x2="441.08" y2="495.60" stroke="#1a1a1a" stroke-width="1.2"/>
<line x1="442.58" y1="493.20" x2="442.58" y2="495.60" stroke="#1a1a1a" stroke-width="1.2"/>
<line x1="443.86" y1="493.20" x2="443.86" y2="495.60" stroke="#1a1a1a" stroke-width="1.2"/>
<line x1="444.96" y1="493.20" x2="444.96" y2="495.60" stroke="#1a1a1a" stroke-width="1.2"/>
<line x1="445.93" y1="493.20" x2="445.93" y2="495.60" stroke="#1a1a1a" stroke-width="1.2"/>
<line x1="446.80" y1="493.20" x2="446.80" y2="496.00" stroke="#1a1a1a" stroke-width="0.9"/>
<text x="447.10" y="505.30" font-size="8.1" text-anchor="middle" fill="#222">10<tspan font-size="5.35" dy="-2.6">2</tspan></text>
<line x1="452.52" y1="493.20" x2="452.52" y2="495.60" stroke="#1a1a1a" stroke-width="1.2"/>
<line x1="455.87" y1="493.20" x2="455.87" y2="495.60" stroke="#1a1a1a" stroke-width="1.2"/>
<line x1="458.24" y1="493.20" x2="458.24" y2="495.60" stroke="#1a1a1a" stroke-width="1.2"/>
<line x1="460.08" y1="493.20" x2="460.08" y2="495.60" stroke="#1a1a1a" stroke-width="1.2"/>
<line x1="461.58" y1="493.20" x2="461.58" y2="495.60" stroke="#1a1a1a" stroke-width="1.2"/>
<line x1="462.86" y1="493.20" x2="462.86" y2="495.60" stroke="#1a1a1a" stroke-width="1.2"/>
<line x1="463.96" y1="493.20" x2="463.96" y2="495.60" stroke="#1a1a1a" stroke-width="1.2"/>
<line x1="464.93" y1="493.20" x2="464.93" y2="495.60" stroke="#1a1a1a" stroke-width="1.2"/>
<line x1="465.80" y1="493.20" x2="465.80" y2="496.00" stroke="#1a1a1a" stroke-width="0.9"/>
<text x="466.10" y="505.30" font-size="8.1" text-anchor="middle" fill="#222">10<tspan font-size="5.35" dy="-2.6">3</tspan></text>
<line x1="471.52" y1="493.20" x2="471.52" y2="495.60" stroke="#1a1a1a" stroke-width="1.2"/>
<line x1="474.87" y1="493.20" x2="474.87" y2="495.60" stroke="#1a1a1a" stroke-width="1.2"/>
<line x1="477.24" y1="493.20" x2="477.24" y2="495.60" stroke="#1a1a1a" stroke-width="1.2"/>
<line x1="479.08" y1="493.20" x2="479.08" y2="495.60" stroke="#1a1a1a" stroke-width="1.2"/>
<line x1="480.58" y1="493.20" x2="480.58" y2="495.60" stroke="#1a1a1a" stroke-width="1.2"/>
<line x1="481.86" y1="493.20" x2="481.86" y2="495.60" stroke="#1a1a1a" stroke-width="1.2"/>
<line x1="482.96" y1="493.20" x2="482.96" y2="495.60" stroke="#1a1a1a" stroke-width="1.2"/>
<line x1="483.93" y1="493.20" x2="483.93" y2="495.60" stroke="#1a1a1a" stroke-width="1.2"/>
<line x1="484.80" y1="493.20" x2="484.80" y2="496.00" stroke="#1a1a1a" stroke-width="0.9"/>
<text x="485.10" y="505.30" font-size="8.1" text-anchor="middle" fill="#222">10<tspan font-size="5.35" dy="-2.6">4</tspan></text>
<line x1="490.52" y1="493.20" x2="490.52" y2="495.60" stroke="#1a1a1a" stroke-width="1.2"/>
<line x1="493.87" y1="493.20" x2="493.87" y2="495.60" stroke="#1a1a1a" stroke-width="1.2"/>
<line x1="496.24" y1="493.20" x2="496.24" y2="495.60" stroke="#1a1a1a" stroke-width="1.2"/>
<line x1="498.08" y1="493.20" x2="498.08" y2="495.60" stroke="#1a1a1a" stroke-width="1.2"/>
<line x1="499.58" y1="493.20" x2="499.58" y2="495.60" stroke="#1a1a1a" stroke-width="1.2"/>
<line x1="500.86" y1="493.20" x2="500.86" y2="495.60" stroke="#1a1a1a" stroke-width="1.2"/>
<line x1="501.96" y1="493.20" x2="501.96" y2="495.60" stroke="#1a1a1a" stroke-width="1.2"/>
<line x1="502.93" y1="493.20" x2="502.93" y2="495.60" stroke="#1a1a1a" stroke-width="1.2"/>
<line x1="503.80" y1="493.20" x2="503.80" y2="496.00" stroke="#1a1a1a" stroke-width="0.9"/>
<text x="504.10" y="505.30" font-size="8.1" text-anchor="middle" fill="#222">10<tspan font-size="5.35" dy="-2.6">5</tspan></text>
<rect x="496.00" y="491.50" width="4.20" height="1.50" fill="#999"/>
<rect x="500.00" y="491.20" width="5.00" height="1.80" fill="#111"/>
<text x="446.00" y="517.60" font-size="8.6" text-anchor="middle" textLength="38" lengthAdjust="spacingAndGlyphs" stroke="#1c1c1c" stroke-width="0.15">Fold increase</text>
<text x="447.10" y="527.40" font-size="8.2" text-anchor="middle" font-style="italic" textLength="91.5" lengthAdjust="spacingAndGlyphs" stroke="#1c1c1c" stroke-width="0.2">(Co-culture vs monocytes alone)</text>
<text x="141.00" y="544.40" font-size="9.1" text-anchor="middle" >SARS-CoV-2 infection</text>
<line x1="72.50" y1="551.20" x2="72.50" y2="637.90" stroke="#1a1a1a" stroke-width="1.2"/>
<line x1="69.10" y1="556.40" x2="72.50" y2="556.40" stroke="#1a1a1a" stroke-width="0.9"/>
<text x="66.30" y="559.10" font-size="7.6" text-anchor="end" >PF4/CXCL4</text>
<line x1="69.10" y1="564.80" x2="72.50" y2="564.80" stroke="#1a1a1a" stroke-width="0.9"/>
<text x="66.30" y="567.50" font-size="7.6" text-anchor="end" >sCD62P</text>
<line x1="69.10" y1="573.20" x2="72.50" y2="573.20" stroke="#1a1a1a" stroke-width="0.9"/>
<text x="66.30" y="575.90" font-size="7.6" text-anchor="end" >PDGF-BB</text>
<line x1="69.10" y1="581.60" x2="72.50" y2="581.60" stroke="#1a1a1a" stroke-width="0.9"/>
<text x="66.30" y="584.30" font-size="7.6" text-anchor="end" >RANTES/CCL5</text>
<line x1="69.10" y1="590.00" x2="72.50" y2="590.00" stroke="#1a1a1a" stroke-width="0.9"/>
<text x="66.30" y="592.70" font-size="7.6" text-anchor="end" >HGF</text>
<line x1="69.10" y1="598.40" x2="72.50" y2="598.40" stroke="#1a1a1a" stroke-width="0.9"/>
<text x="66.30" y="601.10" font-size="7.6" text-anchor="end" >Basic FGF</text>
<line x1="69.10" y1="606.80" x2="72.50" y2="606.80" stroke="#1a1a1a" stroke-width="0.9"/>
<text x="66.30" y="609.50" font-size="7.6" text-anchor="end" >SCF</text>
<line x1="69.10" y1="615.20" x2="72.50" y2="615.20" stroke="#1a1a1a" stroke-width="0.9"/>
<text x="66.30" y="617.90" font-size="7.6" text-anchor="end" >GM-CSF</text>
<line x1="69.10" y1="623.60" x2="72.50" y2="623.60" stroke="#1a1a1a" stroke-width="0.9"/>
<text x="66.30" y="626.30" font-size="7.6" text-anchor="end" >Eotaxin/CCL11</text>
<line x1="69.10" y1="632.00" x2="72.50" y2="632.00" stroke="#1a1a1a" stroke-width="0.9"/>
<text x="66.30" y="634.70" font-size="7.6" text-anchor="end" >SCGFb</text>
<line x1="138.40" y1="551.20" x2="138.40" y2="637.90" stroke="#1a1a1a" stroke-width="1.2"/>
<rect x="138.40" y="553.30" width="32.40" height="6.20" fill="#c4122f" stroke="#b80a27" stroke-width="0.6"/>
<line x1="170.80" y1="556.40" x2="174.50" y2="556.40" stroke="#2a2a2a" stroke-width="0.95"/>
<line x1="174.50" y1="554.70" x2="174.50" y2="558.10" stroke="#1a1a1a" stroke-width="1.1"/>
<path d="M179.50,555.00V557.80M178.28,555.70L180.72,557.10M178.28,557.10L180.72,555.70" stroke="#1a1a1a" stroke-width="0.85"/>
<rect x="138.40" y="561.70" width="27.40" height="6.20" fill="#c4122f" stroke="#b80a27" stroke-width="0.6"/>
<line x1="165.80" y1="564.80" x2="174.50" y2="564.80" stroke="#2a2a2a" stroke-width="0.95"/>
<line x1="174.50" y1="563.10" x2="174.50" y2="566.50" stroke="#1a1a1a" stroke-width="1.1"/>
<path d="M179.50,563.40V566.20M178.28,564.10L180.72,565.50M178.28,565.50L180.72,564.10" stroke="#1a1a1a" stroke-width="0.85"/>
<rect x="138.40" y="570.10" width="9.10" height="6.20" fill="#c4122f" stroke="#b80a27" stroke-width="0.6"/>
<line x1="147.50" y1="573.20" x2="148.80" y2="573.20" stroke="#2a2a2a" stroke-width="0.95"/>
<line x1="148.80" y1="571.50" x2="148.80" y2="574.90" stroke="#1a1a1a" stroke-width="1.1"/>
<path d="M152.50,571.80V574.60M151.28,572.50L153.72,573.90M151.28,573.90L153.72,572.50" stroke="#1a1a1a" stroke-width="0.85"/>
<rect x="138.40" y="578.50" width="11.10" height="6.20" fill="#c4122f" stroke="#b80a27" stroke-width="0.6"/>
<line x1="149.50" y1="581.60" x2="154.50" y2="581.60" stroke="#2a2a2a" stroke-width="0.95"/>
<line x1="154.50" y1="579.90" x2="154.50" y2="583.30" stroke="#1a1a1a" stroke-width="1.1"/>
<path d="M159.50,580.20V583.00M158.28,580.90L160.72,582.30M158.28,582.30L160.72,580.90" stroke="#1a1a1a" stroke-width="0.85"/>
<rect x="138.40" y="586.90" width="9.60" height="6.20" fill="#c4122f" stroke="#b80a27" stroke-width="0.6"/>
<line x1="148.00" y1="590.00" x2="156.30" y2="590.00" stroke="#2a2a2a" stroke-width="0.95"/>
<line x1="156.30" y1="588.30" x2="156.30" y2="591.70" stroke="#1a1a1a" stroke-width="1.1"/>
<rect x="138.40" y="595.30" width="4.10" height="6.20" fill="#c4122f" stroke="#b80a27" stroke-width="0.6"/>
<line x1="142.50" y1="598.40" x2="153.80" y2="598.40" stroke="#2a2a2a" stroke-width="0.95"/>
<line x1="153.80" y1="596.70" x2="153.80" y2="600.10" stroke="#1a1a1a" stroke-width="1.1"/>
<rect x="138.40" y="603.70" width="7.10" height="6.20" fill="#c4122f" stroke="#b80a27" stroke-width="0.6"/>
<line x1="145.50" y1="606.80" x2="156.30" y2="606.80" stroke="#2a2a2a" stroke-width="0.95"/>
<line x1="156.30" y1="605.10" x2="156.30" y2="608.50" stroke="#1a1a1a" stroke-width="1.1"/>
<rect x="119.50" y="612.10" width="18.90" height="6.20" fill="#c4122f" stroke="#b80a27" stroke-width="0.6"/>
<line x1="119.50" y1="615.20" x2="98.20" y2="615.20" stroke="#2a2a2a" stroke-width="0.95"/>
<line x1="98.20" y1="613.50" x2="98.20" y2="616.90" stroke="#1a1a1a" stroke-width="1.1"/>
<rect x="120.00" y="620.50" width="18.40" height="6.20" fill="#c4122f" stroke="#b80a27" stroke-width="0.6"/>
<line x1="120.00" y1="623.60" x2="98.20" y2="623.60" stroke="#2a2a2a" stroke-width="0.95"/>
<line x1="98.20" y1="621.90" x2="98.20" y2="625.30" stroke="#1a1a1a" stroke-width="1.1"/>
<rect x="121.80" y="628.90" width="16.60" height="6.20" fill="#c4122f" stroke="#b80a27" stroke-width="0.6"/>
<line x1="121.80" y1="632.00" x2="109.30" y2="632.00" stroke="#2a2a2a" stroke-width="0.95"/>
<line x1="109.30" y1="630.30" x2="109.30" y2="633.70" stroke="#1a1a1a" stroke-width="1.1"/>
<line x1="138.40" y1="551.20" x2="138.40" y2="637.90" stroke="#1a1a1a" stroke-width="1.3"/>
<line x1="71.90" y1="637.90" x2="209.80" y2="637.90" stroke="#333" stroke-width="1.5"/>
<line x1="72.50" y1="637.90" x2="72.50" y2="640.40" stroke="#1a1a1a" stroke-width="1.1"/>
<line x1="72.20" y1="637.90" x2="72.20" y2="640.50" stroke="#1a1a1a" stroke-width="1.2"/>
<line x1="92.13" y1="637.90" x2="92.13" y2="640.10" stroke="#1a1a1a" stroke-width="0.9"/>
<line x1="103.79" y1="637.90" x2="103.79" y2="640.10" stroke="#1a1a1a" stroke-width="0.9"/>
<line x1="112.06" y1="637.90" x2="112.06" y2="640.10" stroke="#1a1a1a" stroke-width="0.9"/>
<line x1="118.47" y1="637.90" x2="118.47" y2="640.10" stroke="#1a1a1a" stroke-width="0.9"/>
<line x1="123.71" y1="637.90" x2="123.71" y2="640.10" stroke="#1a1a1a" stroke-width="0.9"/>
<line x1="128.15" y1="637.90" x2="128.15" y2="640.10" stroke="#1a1a1a" stroke-width="0.9"/>
<line x1="131.98" y1="637.90" x2="131.98" y2="640.10" stroke="#1a1a1a" stroke-width="0.9"/>
<line x1="135.37" y1="637.90" x2="135.37" y2="640.10" stroke="#1a1a1a" stroke-width="0.9"/>
<line x1="138.40" y1="637.90" x2="138.40" y2="640.50" stroke="#1a1a1a" stroke-width="1.2"/>
<line x1="158.33" y1="637.90" x2="158.33" y2="640.10" stroke="#1a1a1a" stroke-width="0.9"/>
<line x1="169.99" y1="637.90" x2="169.99" y2="640.10" stroke="#1a1a1a" stroke-width="0.9"/>
<line x1="178.26" y1="637.90" x2="178.26" y2="640.10" stroke="#1a1a1a" stroke-width="0.9"/>
<line x1="184.67" y1="637.90" x2="184.67" y2="640.10" stroke="#1a1a1a" stroke-width="0.9"/>
<line x1="189.91" y1="637.90" x2="189.91" y2="640.10" stroke="#1a1a1a" stroke-width="0.9"/>
<line x1="194.35" y1="637.90" x2="194.35" y2="640.10" stroke="#1a1a1a" stroke-width="0.9"/>
<line x1="198.18" y1="637.90" x2="198.18" y2="640.10" stroke="#1a1a1a" stroke-width="0.9"/>
<line x1="201.57" y1="637.90" x2="201.57" y2="640.10" stroke="#1a1a1a" stroke-width="0.9"/>
<line x1="204.60" y1="637.90" x2="204.60" y2="640.50" stroke="#1a1a1a" stroke-width="1.2"/>
<text x="71.90" y="649.70" font-size="7.5" text-anchor="middle" >0.1</text>
<text x="138.50" y="649.70" font-size="7.5" text-anchor="middle" >1</text>
<text x="204.60" y="649.70" font-size="7.5" text-anchor="middle" >10</text>
<text x="141.10" y="660.70" font-size="8.6" text-anchor="middle" textLength="38" lengthAdjust="spacingAndGlyphs" stroke="#1c1c1c" stroke-width="0.15">Fold increase</text>
<text x="140.80" y="671.10" font-size="8.2" text-anchor="middle" font-style="italic" textLength="84.6" lengthAdjust="spacingAndGlyphs" stroke="#1c1c1c" stroke-width="0.2">(Co-culture vs platelets alone)</text>
<line x1="307.70" y1="566.90" x2="307.70" y2="638.00" stroke="#1a1a1a" stroke-width="1.2"/>
<line x1="307.10" y1="637.90" x2="439.30" y2="637.90" stroke="#3a3a3a" stroke-width="1.7"/>
<line x1="304.30" y1="638.00" x2="307.70" y2="638.00" stroke="#1a1a1a" stroke-width="0.9"/>
<text x="301.90" y="640.75" font-size="7.8" text-anchor="end" >0</text>
<line x1="304.30" y1="615.60" x2="307.70" y2="615.60" stroke="#1a1a1a" stroke-width="0.9"/>
<text x="301.90" y="618.35" font-size="7.8" text-anchor="end" >5000</text>
<line x1="304.30" y1="593.20" x2="307.70" y2="593.20" stroke="#1a1a1a" stroke-width="0.9"/>
<text x="301.90" y="595.95" font-size="7.8" text-anchor="end" >10000</text>
<line x1="304.30" y1="570.80" x2="307.70" y2="570.80" stroke="#1a1a1a" stroke-width="0.9"/>
<text x="301.90" y="573.55" font-size="7.8" text-anchor="end" >15000</text>
<text transform="translate(273.6,603.5) rotate(-90)" font-size="8.2" text-anchor="middle" fill="#1c1c1c" stroke="#1c1c1c" stroke-width="0.12" textLength="48.5" lengthAdjust="spacingAndGlyphs">sCD62P (pg/mL)</text>
<rect x="315.60" y="634.86" width="10.40" height="3.14" fill="#9fd9a5"/>
<circle cx="320.6" cy="628.8" r="2.0" fill="#2db543"/>
<circle cx="317.4" cy="634.2" r="2.0" fill="#2db543"/>
<circle cx="323.1" cy="635.0" r="2.0" fill="#2db543"/>
<circle cx="320.6" cy="636.7" r="2.0" fill="#2db543"/>
<line x1="320.80" y1="632.60" x2="320.80" y2="636.50" stroke="#1a1a1a" stroke-width="0.9"/>
<line x1="318.20" y1="632.60" x2="323.40" y2="632.60" stroke="#1a1a1a" stroke-width="0.9"/>
<line x1="318.20" y1="636.50" x2="323.40" y2="636.50" stroke="#1a1a1a" stroke-width="0.9"/>
<rect x="337.20" y="630.16" width="10.40" height="7.84" fill="#e8909f"/>
<circle cx="339.1" cy="629.0" r="2.0" fill="#c8102e"/>
<circle cx="342.4" cy="626.9" r="2.0" fill="#c8102e"/>
<circle cx="343.2" cy="632.6" r="2.0" fill="#c8102e"/>
<circle cx="345.1" cy="632.9" r="2.0" fill="#c8102e"/>
<line x1="342.40" y1="629.00" x2="342.40" y2="632.00" stroke="#1a1a1a" stroke-width="0.9"/>
<line x1="339.80" y1="629.00" x2="345.00" y2="629.00" stroke="#1a1a1a" stroke-width="0.9"/>
<line x1="339.80" y1="632.00" x2="345.00" y2="632.00" stroke="#1a1a1a" stroke-width="0.9"/>
<rect x="358.30" y="619.86" width="10.40" height="18.14" fill="#9fd9a5"/>
<circle cx="363.4" cy="600.7" r="2.0" fill="#2db543"/>
<circle cx="361.5" cy="623.6" r="2.0" fill="#2db543"/>
<circle cx="366.1" cy="624.4" r="2.0" fill="#2db543"/>
<circle cx="363.4" cy="631.3" r="2.0" fill="#2db543"/>
<line x1="363.50" y1="613.50" x2="363.50" y2="626.40" stroke="#1a1a1a" stroke-width="0.9"/>
<line x1="360.90" y1="613.50" x2="366.10" y2="613.50" stroke="#1a1a1a" stroke-width="0.9"/>
<line x1="360.90" y1="626.40" x2="366.10" y2="626.40" stroke="#1a1a1a" stroke-width="0.9"/>
<rect x="379.90" y="635.76" width="10.40" height="2.24" fill="#9fd9a5"/>
<circle cx="384.9" cy="631.3" r="2.0" fill="#2db543"/>
<circle cx="381.9" cy="634.2" r="2.0" fill="#2db543"/>
<circle cx="386.8" cy="634.6" r="2.0" fill="#2db543"/>
<circle cx="384.9" cy="636.7" r="2.0" fill="#2db543"/>
<line x1="385.10" y1="632.30" x2="385.10" y2="637.00" stroke="#1a1a1a" stroke-width="0.9"/>
<line x1="382.50" y1="632.30" x2="387.70" y2="632.30" stroke="#1a1a1a" stroke-width="0.9"/>
<line x1="382.50" y1="637.00" x2="387.70" y2="637.00" stroke="#1a1a1a" stroke-width="0.9"/>
<rect x="400.90" y="627.92" width="10.40" height="10.08" fill="#e8909f"/>
<circle cx="404.3" cy="625.6" r="2.0" fill="#c8102e"/>
<circle cx="411.0" cy="625.8" r="2.0" fill="#c8102e"/>
<circle cx="408.7" cy="629.5" r="2.0" fill="#c8102e"/>
<circle cx="404.1" cy="631.6" r="2.0" fill="#c8102e"/>
<line x1="406.10" y1="626.20" x2="406.10" y2="629.30" stroke="#1a1a1a" stroke-width="0.9"/>
<line x1="403.50" y1="626.20" x2="408.70" y2="626.20" stroke="#1a1a1a" stroke-width="0.9"/>
<line x1="403.50" y1="629.30" x2="408.70" y2="629.30" stroke="#1a1a1a" stroke-width="0.9"/>
<rect x="422.30" y="609.78" width="10.40" height="28.22" fill="#7fa3c9"/>
<circle cx="427.8" cy="572.4" r="2.0" fill="#1b4f8c"/>
<circle cx="427.8" cy="616.2" r="2.0" fill="#1b4f8c"/>
<circle cx="429.8" cy="623.5" r="2.0" fill="#1b4f8c"/>
<circle cx="426.0" cy="627.8" r="2.0" fill="#1b4f8c"/>
<line x1="427.50" y1="596.90" x2="427.50" y2="622.60" stroke="#1a1a1a" stroke-width="0.9"/>
<line x1="424.90" y1="596.90" x2="430.10" y2="596.90" stroke="#1a1a1a" stroke-width="0.9"/>
<line x1="424.90" y1="622.60" x2="430.10" y2="622.60" stroke="#1a1a1a" stroke-width="0.9"/>
<line x1="307.10" y1="637.90" x2="439.30" y2="637.90" stroke="#3a3a3a" stroke-width="1.7"/>
<line x1="320.80" y1="638.00" x2="320.80" y2="641.00" stroke="#1a1a1a" stroke-width="0.9"/>
<line x1="342.40" y1="638.00" x2="342.40" y2="641.00" stroke="#1a1a1a" stroke-width="0.9"/>
<line x1="363.50" y1="638.00" x2="363.50" y2="641.00" stroke="#1a1a1a" stroke-width="0.9"/>
<line x1="385.10" y1="638.00" x2="385.10" y2="641.00" stroke="#1a1a1a" stroke-width="0.9"/>
<line x1="406.10" y1="638.00" x2="406.10" y2="641.00" stroke="#1a1a1a" stroke-width="0.9"/>
<line x1="427.50" y1="638.00" x2="427.50" y2="641.00" stroke="#1a1a1a" stroke-width="0.9"/>
<line x1="408.10" y1="568.50" x2="428.60" y2="568.50" stroke="#1a1a1a" stroke-width="1.2"/>
<path d="M418.30,562.20V565.00M417.08,562.90L419.52,564.30M417.08,564.30L419.52,562.90" stroke="#1a1a1a" stroke-width="0.85"/>
<text x="307.30" y="648.50" font-size="7.6" text-anchor="end" >Monocyte</text>
<line x1="318.80" y1="645.90" x2="322.80" y2="645.90" stroke="#1a1a1a" stroke-width="0.85"/>
<line x1="320.80" y1="643.90" x2="320.80" y2="647.90" stroke="#1a1a1a" stroke-width="0.85"/>
<line x1="340.50" y1="645.90" x2="344.30" y2="645.90" stroke="#1a1a1a" stroke-width="0.85"/>
<line x1="361.50" y1="645.90" x2="365.50" y2="645.90" stroke="#1a1a1a" stroke-width="0.85"/>
<line x1="363.50" y1="643.90" x2="363.50" y2="647.90" stroke="#1a1a1a" stroke-width="0.85"/>
<line x1="383.10" y1="645.90" x2="387.10" y2="645.90" stroke="#1a1a1a" stroke-width="0.85"/>
<line x1="385.10" y1="643.90" x2="385.10" y2="647.90" stroke="#1a1a1a" stroke-width="0.85"/>
<line x1="404.20" y1="645.90" x2="408.00" y2="645.90" stroke="#1a1a1a" stroke-width="0.85"/>
<line x1="425.50" y1="645.90" x2="429.50" y2="645.90" stroke="#1a1a1a" stroke-width="0.85"/>
<line x1="427.50" y1="643.90" x2="427.50" y2="647.90" stroke="#1a1a1a" stroke-width="0.85"/>
<text x="307.30" y="657.70" font-size="7.6" text-anchor="end" >Platelet</text>
<line x1="318.90" y1="655.10" x2="322.70" y2="655.10" stroke="#1a1a1a" stroke-width="0.85"/>
<line x1="340.40" y1="655.10" x2="344.40" y2="655.10" stroke="#1a1a1a" stroke-width="0.85"/>
<line x1="342.40" y1="653.10" x2="342.40" y2="657.10" stroke="#1a1a1a" stroke-width="0.85"/>
<line x1="361.50" y1="655.10" x2="365.50" y2="655.10" stroke="#1a1a1a" stroke-width="0.85"/>
<line x1="363.50" y1="653.10" x2="363.50" y2="657.10" stroke="#1a1a1a" stroke-width="0.85"/>
<line x1="383.20" y1="655.10" x2="387.00" y2="655.10" stroke="#1a1a1a" stroke-width="0.85"/>
<line x1="404.10" y1="655.10" x2="408.10" y2="655.10" stroke="#1a1a1a" stroke-width="0.85"/>
<line x1="406.10" y1="653.10" x2="406.10" y2="657.10" stroke="#1a1a1a" stroke-width="0.85"/>
<line x1="425.50" y1="655.10" x2="429.50" y2="655.10" stroke="#1a1a1a" stroke-width="0.85"/>
<line x1="427.50" y1="653.10" x2="427.50" y2="657.10" stroke="#1a1a1a" stroke-width="0.85"/>
<text x="307.30" y="666.60" font-size="7.6" text-anchor="end" >SARS-CoV-2</text>
<line x1="318.90" y1="664.00" x2="322.70" y2="664.00" stroke="#1a1a1a" stroke-width="0.85"/>
<line x1="340.50" y1="664.00" x2="344.30" y2="664.00" stroke="#1a1a1a" stroke-width="0.85"/>
<line x1="361.60" y1="664.00" x2="365.40" y2="664.00" stroke="#1a1a1a" stroke-width="0.85"/>
<line x1="383.10" y1="664.00" x2="387.10" y2="664.00" stroke="#1a1a1a" stroke-width="0.85"/>
<line x1="385.10" y1="662.00" x2="385.10" y2="666.00" stroke="#1a1a1a" stroke-width="0.85"/>
<line x1="404.10" y1="664.00" x2="408.10" y2="664.00" stroke="#1a1a1a" stroke-width="0.85"/>
<line x1="406.10" y1="662.00" x2="406.10" y2="666.00" stroke="#1a1a1a" stroke-width="0.85"/>
<line x1="425.50" y1="664.00" x2="429.50" y2="664.00" stroke="#1a1a1a" stroke-width="0.85"/>
<line x1="427.50" y1="662.00" x2="427.50" y2="666.00" stroke="#1a1a1a" stroke-width="0.85"/>
<rect x="0.6" y="0.6" width="518.8" height="676.8" fill="none" stroke="#000" stroke-width="1.25"/>
</svg></body></html>
